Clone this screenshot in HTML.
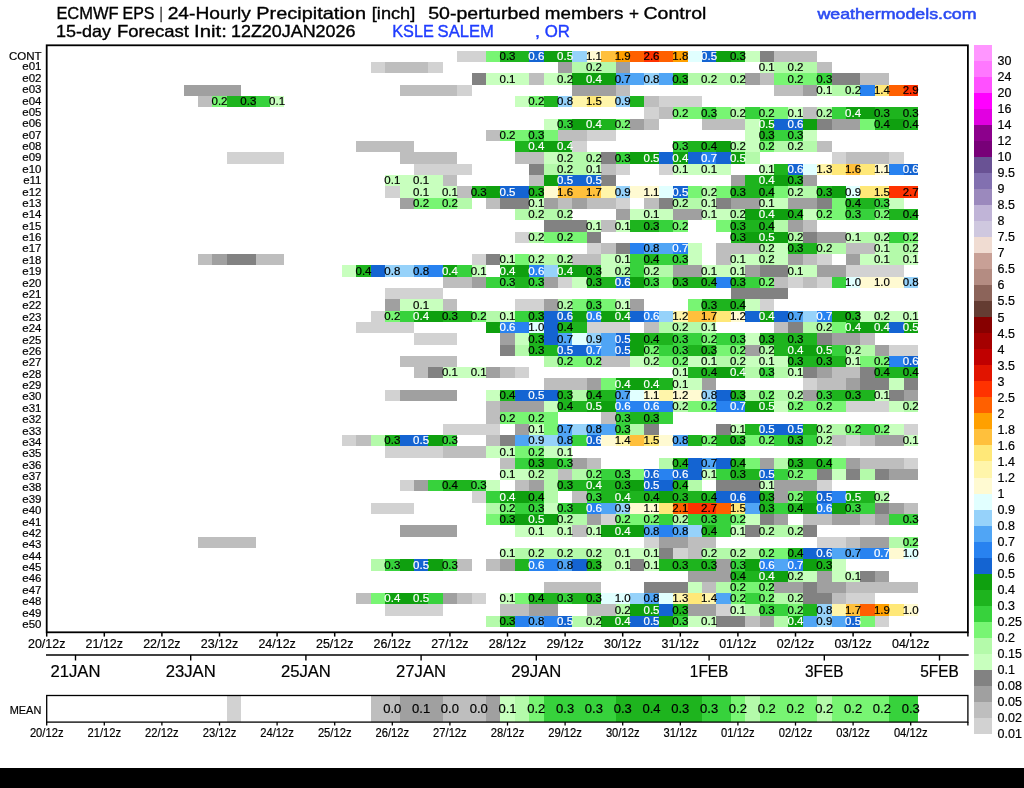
<!DOCTYPE html><html><head><meta charset="utf-8"><title>ECMWF EPS 24-Hourly Precipitation</title>
<style>html,body{margin:0;padding:0;background:#fff;}body{position:relative;width:1024px;height:788px;overflow:hidden;}svg{display:block;position:absolute;left:0;top:0;font-family:"Liberation Sans",sans-serif;}svg.top{will-change:transform;}</style></head><body>
<svg width="1024" height="788" viewBox="0 0 1024 788">
<rect x="0" y="0" width="1024" height="788" fill="#fff"/>
<g shape-rendering="crispEdges">
<rect x="457.1" y="50.7" width="28.8" height="11.3" fill="#d2d2d2"/>
<rect x="485.9" y="50.7" width="14.4" height="11.3" fill="#78f573"/>
<rect x="500.3" y="50.7" width="28.8" height="11.3" fill="#1eb41e"/>
<rect x="529.1" y="50.7" width="14.4" height="11.3" fill="#1464d2"/>
<rect x="543.5" y="50.7" width="28.8" height="11.3" fill="#0fa00f"/>
<rect x="572.3" y="50.7" width="14.4" height="11.3" fill="#96d2fa"/>
<rect x="586.7" y="50.7" width="14.4" height="11.3" fill="#fffad2"/>
<rect x="601.1" y="50.7" width="14.4" height="11.3" fill="#ffc03c"/>
<rect x="615.5" y="50.7" width="14.4" height="11.3" fill="#ffa000"/>
<rect x="629.9" y="50.7" width="14.4" height="11.3" fill="#ff6000"/>
<rect x="644.3" y="50.7" width="14.4" height="11.3" fill="#ff3200"/>
<rect x="658.7" y="50.7" width="14.4" height="11.3" fill="#ff6000"/>
<rect x="673.1" y="50.7" width="14.4" height="11.3" fill="#ffa000"/>
<rect x="687.5" y="50.7" width="14.4" height="11.3" fill="#e1ffff"/>
<rect x="701.9" y="50.7" width="14.4" height="11.3" fill="#1464d2"/>
<rect x="716.3" y="50.7" width="14.4" height="11.3" fill="#0fa00f"/>
<rect x="730.7" y="50.7" width="14.4" height="11.3" fill="#1eb41e"/>
<rect x="745.1" y="50.7" width="14.4" height="11.3" fill="#c8ffbe"/>
<rect x="759.5" y="50.7" width="14.4" height="11.3" fill="#828282"/>
<rect x="773.9" y="50.7" width="43.2" height="11.3" fill="#bebebe"/>
<rect x="370.7" y="62" width="14.4" height="11.3" fill="#d2d2d2"/>
<rect x="385.1" y="62" width="43.2" height="11.3" fill="#bebebe"/>
<rect x="428.3" y="62" width="14.4" height="11.3" fill="#d2d2d2"/>
<rect x="557.9" y="62" width="14.4" height="11.3" fill="#a0a0a0"/>
<rect x="572.3" y="62" width="43.2" height="11.3" fill="#b4faaa"/>
<rect x="615.5" y="62" width="14.4" height="11.3" fill="#a0a0a0"/>
<rect x="759.5" y="62" width="14.4" height="11.3" fill="#c8ffbe"/>
<rect x="773.9" y="62" width="43.2" height="11.3" fill="#b4faaa"/>
<rect x="817.1" y="62" width="14.4" height="11.3" fill="#bebebe"/>
<rect x="471.5" y="73.3" width="14.4" height="11.3" fill="#828282"/>
<rect x="485.9" y="73.3" width="43.2" height="11.3" fill="#c8ffbe"/>
<rect x="529.1" y="73.3" width="14.4" height="11.3" fill="#bebebe"/>
<rect x="543.5" y="73.3" width="14.4" height="11.3" fill="#c8ffbe"/>
<rect x="557.9" y="73.3" width="14.4" height="11.3" fill="#b4faaa"/>
<rect x="572.3" y="73.3" width="43.2" height="11.3" fill="#0fa00f"/>
<rect x="615.5" y="73.3" width="28.8" height="11.3" fill="#50a5f5"/>
<rect x="644.3" y="73.3" width="14.4" height="11.3" fill="#96d2fa"/>
<rect x="658.7" y="73.3" width="14.4" height="11.3" fill="#50a5f5"/>
<rect x="673.1" y="73.3" width="14.4" height="11.3" fill="#1eb41e"/>
<rect x="687.5" y="73.3" width="57.6" height="11.3" fill="#b4faaa"/>
<rect x="745.1" y="73.3" width="14.4" height="11.3" fill="#a0a0a0"/>
<rect x="759.5" y="73.3" width="14.4" height="11.3" fill="#bebebe"/>
<rect x="773.9" y="73.3" width="43.2" height="11.3" fill="#78f573"/>
<rect x="817.1" y="73.3" width="14.4" height="11.3" fill="#37d23c"/>
<rect x="831.5" y="73.3" width="28.8" height="11.3" fill="#828282"/>
<rect x="860.3" y="73.3" width="28.8" height="11.3" fill="#bebebe"/>
<rect x="183.5" y="84.6" width="57.6" height="11.3" fill="#a0a0a0"/>
<rect x="399.5" y="84.6" width="57.6" height="11.3" fill="#bebebe"/>
<rect x="457.1" y="84.6" width="14.4" height="11.3" fill="#d2d2d2"/>
<rect x="572.3" y="84.6" width="43.2" height="11.3" fill="#a0a0a0"/>
<rect x="615.5" y="84.6" width="14.4" height="11.3" fill="#bebebe"/>
<rect x="773.9" y="84.6" width="28.8" height="11.3" fill="#bebebe"/>
<rect x="802.7" y="84.6" width="14.4" height="11.3" fill="#a0a0a0"/>
<rect x="817.1" y="84.6" width="14.4" height="11.3" fill="#c8ffbe"/>
<rect x="831.5" y="84.6" width="28.8" height="11.3" fill="#b4faaa"/>
<rect x="860.3" y="84.6" width="14.4" height="11.3" fill="#2882f0"/>
<rect x="874.7" y="84.6" width="14.4" height="11.3" fill="#ffe878"/>
<rect x="889.1" y="84.6" width="14.4" height="11.3" fill="#ff6000"/>
<rect x="903.5" y="84.6" width="14.4" height="11.3" fill="#ff3200"/>
<rect x="197.9" y="95.9" width="14.4" height="11.3" fill="#bebebe"/>
<rect x="212.3" y="95.9" width="14.4" height="11.3" fill="#78f573"/>
<rect x="226.7" y="95.9" width="28.8" height="11.3" fill="#1eb41e"/>
<rect x="255.5" y="95.9" width="14.4" height="11.3" fill="#37d23c"/>
<rect x="269.9" y="95.9" width="14.4" height="11.3" fill="#c8ffbe"/>
<rect x="514.7" y="95.9" width="14.4" height="11.3" fill="#c8ffbe"/>
<rect x="529.1" y="95.9" width="14.4" height="11.3" fill="#78f573"/>
<rect x="543.5" y="95.9" width="14.4" height="11.3" fill="#1eb41e"/>
<rect x="557.9" y="95.9" width="14.4" height="11.3" fill="#96d2fa"/>
<rect x="572.3" y="95.9" width="14.4" height="11.3" fill="#fff5aa"/>
<rect x="586.7" y="95.9" width="14.4" height="11.3" fill="#ffe878"/>
<rect x="601.1" y="95.9" width="14.4" height="11.3" fill="#fff5aa"/>
<rect x="615.5" y="95.9" width="14.4" height="11.3" fill="#96d2fa"/>
<rect x="629.9" y="95.9" width="14.4" height="11.3" fill="#1eb41e"/>
<rect x="644.3" y="95.9" width="14.4" height="11.3" fill="#bebebe"/>
<rect x="658.7" y="95.9" width="43.2" height="11.3" fill="#d2d2d2"/>
<rect x="644.3" y="107.2" width="14.4" height="11.3" fill="#d2d2d2"/>
<rect x="658.7" y="107.2" width="14.4" height="11.3" fill="#bebebe"/>
<rect x="673.1" y="107.2" width="28.8" height="11.3" fill="#78f573"/>
<rect x="701.9" y="107.2" width="14.4" height="11.3" fill="#37d23c"/>
<rect x="716.3" y="107.2" width="14.4" height="11.3" fill="#78f573"/>
<rect x="730.7" y="107.2" width="14.4" height="11.3" fill="#b4faaa"/>
<rect x="745.1" y="107.2" width="14.4" height="11.3" fill="#37d23c"/>
<rect x="759.5" y="107.2" width="28.8" height="11.3" fill="#78f573"/>
<rect x="788.3" y="107.2" width="14.4" height="11.3" fill="#c8ffbe"/>
<rect x="802.7" y="107.2" width="14.4" height="11.3" fill="#bebebe"/>
<rect x="817.1" y="107.2" width="14.4" height="11.3" fill="#b4faaa"/>
<rect x="831.5" y="107.2" width="14.4" height="11.3" fill="#37d23c"/>
<rect x="845.9" y="107.2" width="28.8" height="11.3" fill="#0fa00f"/>
<rect x="874.7" y="107.2" width="43.2" height="11.3" fill="#1eb41e"/>
<rect x="543.5" y="118.5" width="14.4" height="11.3" fill="#c8ffbe"/>
<rect x="557.9" y="118.5" width="14.4" height="11.3" fill="#37d23c"/>
<rect x="572.3" y="118.5" width="28.8" height="11.3" fill="#0fa00f"/>
<rect x="601.1" y="118.5" width="14.4" height="11.3" fill="#1eb41e"/>
<rect x="615.5" y="118.5" width="14.4" height="11.3" fill="#78f573"/>
<rect x="629.9" y="118.5" width="14.4" height="11.3" fill="#a0a0a0"/>
<rect x="644.3" y="118.5" width="14.4" height="11.3" fill="#bebebe"/>
<rect x="701.9" y="118.5" width="43.2" height="11.3" fill="#bebebe"/>
<rect x="745.1" y="118.5" width="14.4" height="11.3" fill="#c8ffbe"/>
<rect x="759.5" y="118.5" width="14.4" height="11.3" fill="#0fa00f"/>
<rect x="773.9" y="118.5" width="28.8" height="11.3" fill="#1464d2"/>
<rect x="802.7" y="118.5" width="14.4" height="11.3" fill="#0fa00f"/>
<rect x="817.1" y="118.5" width="14.4" height="11.3" fill="#828282"/>
<rect x="831.5" y="118.5" width="28.8" height="11.3" fill="#a0a0a0"/>
<rect x="860.3" y="118.5" width="14.4" height="11.3" fill="#78f573"/>
<rect x="874.7" y="118.5" width="14.4" height="11.3" fill="#1eb41e"/>
<rect x="889.1" y="118.5" width="14.4" height="11.3" fill="#0fa00f"/>
<rect x="903.5" y="118.5" width="14.4" height="11.3" fill="#1eb41e"/>
<rect x="485.9" y="129.8" width="14.4" height="11.3" fill="#bebebe"/>
<rect x="500.3" y="129.8" width="28.8" height="11.3" fill="#78f573"/>
<rect x="529.1" y="129.8" width="14.4" height="11.3" fill="#37d23c"/>
<rect x="543.5" y="129.8" width="14.4" height="11.3" fill="#78f573"/>
<rect x="557.9" y="129.8" width="28.8" height="11.3" fill="#bebebe"/>
<rect x="586.7" y="129.8" width="28.8" height="11.3" fill="#d2d2d2"/>
<rect x="745.1" y="129.8" width="14.4" height="11.3" fill="#c8ffbe"/>
<rect x="759.5" y="129.8" width="14.4" height="11.3" fill="#1eb41e"/>
<rect x="773.9" y="129.8" width="28.8" height="11.3" fill="#37d23c"/>
<rect x="802.7" y="129.8" width="14.4" height="11.3" fill="#c8ffbe"/>
<rect x="356.3" y="141.1" width="57.6" height="11.3" fill="#bebebe"/>
<rect x="514.7" y="141.1" width="14.4" height="11.3" fill="#1eb41e"/>
<rect x="529.1" y="141.1" width="43.2" height="11.3" fill="#0fa00f"/>
<rect x="572.3" y="141.1" width="14.4" height="11.3" fill="#d2d2d2"/>
<rect x="673.1" y="141.1" width="14.4" height="11.3" fill="#37d23c"/>
<rect x="687.5" y="141.1" width="28.8" height="11.3" fill="#1eb41e"/>
<rect x="716.3" y="141.1" width="14.4" height="11.3" fill="#0fa00f"/>
<rect x="730.7" y="141.1" width="14.4" height="11.3" fill="#b4faaa"/>
<rect x="745.1" y="141.1" width="14.4" height="11.3" fill="#c8ffbe"/>
<rect x="759.5" y="141.1" width="14.4" height="11.3" fill="#78f573"/>
<rect x="773.9" y="141.1" width="43.2" height="11.3" fill="#b4faaa"/>
<rect x="817.1" y="141.1" width="14.4" height="11.3" fill="#bebebe"/>
<rect x="226.7" y="152.4" width="57.6" height="11.3" fill="#d2d2d2"/>
<rect x="399.5" y="152.4" width="57.6" height="11.3" fill="#bebebe"/>
<rect x="514.7" y="152.4" width="28.8" height="11.3" fill="#bebebe"/>
<rect x="543.5" y="152.4" width="14.4" height="11.3" fill="#c8ffbe"/>
<rect x="557.9" y="152.4" width="43.2" height="11.3" fill="#b4faaa"/>
<rect x="601.1" y="152.4" width="14.4" height="11.3" fill="#828282"/>
<rect x="615.5" y="152.4" width="14.4" height="11.3" fill="#37d23c"/>
<rect x="629.9" y="152.4" width="28.8" height="11.3" fill="#0fa00f"/>
<rect x="658.7" y="152.4" width="14.4" height="11.3" fill="#1464d2"/>
<rect x="673.1" y="152.4" width="14.4" height="11.3" fill="#0fa00f"/>
<rect x="687.5" y="152.4" width="14.4" height="11.3" fill="#1464d2"/>
<rect x="701.9" y="152.4" width="14.4" height="11.3" fill="#2882f0"/>
<rect x="716.3" y="152.4" width="14.4" height="11.3" fill="#1464d2"/>
<rect x="730.7" y="152.4" width="14.4" height="11.3" fill="#0fa00f"/>
<rect x="745.1" y="152.4" width="14.4" height="11.3" fill="#b4faaa"/>
<rect x="831.5" y="152.4" width="14.4" height="11.3" fill="#d2d2d2"/>
<rect x="845.9" y="152.4" width="43.2" height="11.3" fill="#bebebe"/>
<rect x="889.1" y="152.4" width="14.4" height="11.3" fill="#d2d2d2"/>
<rect x="413.9" y="163.7" width="57.6" height="11.3" fill="#d2d2d2"/>
<rect x="529.1" y="163.7" width="14.4" height="11.3" fill="#828282"/>
<rect x="543.5" y="163.7" width="43.2" height="11.3" fill="#b4faaa"/>
<rect x="586.7" y="163.7" width="14.4" height="11.3" fill="#c8ffbe"/>
<rect x="601.1" y="163.7" width="14.4" height="11.3" fill="#bebebe"/>
<rect x="615.5" y="163.7" width="14.4" height="11.3" fill="#d2d2d2"/>
<rect x="658.7" y="163.7" width="14.4" height="11.3" fill="#d2d2d2"/>
<rect x="673.1" y="163.7" width="57.6" height="11.3" fill="#c8ffbe"/>
<rect x="759.5" y="163.7" width="14.4" height="11.3" fill="#c8ffbe"/>
<rect x="773.9" y="163.7" width="14.4" height="11.3" fill="#1eb41e"/>
<rect x="788.3" y="163.7" width="14.4" height="11.3" fill="#1464d2"/>
<rect x="802.7" y="163.7" width="14.4" height="11.3" fill="#e1ffff"/>
<rect x="817.1" y="163.7" width="14.4" height="11.3" fill="#fff5aa"/>
<rect x="831.5" y="163.7" width="14.4" height="11.3" fill="#ffe878"/>
<rect x="845.9" y="163.7" width="14.4" height="11.3" fill="#ffc03c"/>
<rect x="860.3" y="163.7" width="14.4" height="11.3" fill="#ffe878"/>
<rect x="874.7" y="163.7" width="14.4" height="11.3" fill="#fffad2"/>
<rect x="889.1" y="163.7" width="14.4" height="11.3" fill="#2882f0"/>
<rect x="903.5" y="163.7" width="14.4" height="11.3" fill="#1464d2"/>
<rect x="385.1" y="175" width="57.6" height="11.3" fill="#c8ffbe"/>
<rect x="442.7" y="175" width="14.4" height="11.3" fill="#bebebe"/>
<rect x="529.1" y="175" width="14.4" height="11.3" fill="#bebebe"/>
<rect x="543.5" y="175" width="14.4" height="11.3" fill="#0fa00f"/>
<rect x="557.9" y="175" width="43.2" height="11.3" fill="#1464d2"/>
<rect x="601.1" y="175" width="14.4" height="11.3" fill="#828282"/>
<rect x="730.7" y="175" width="14.4" height="11.3" fill="#a0a0a0"/>
<rect x="745.1" y="175" width="14.4" height="11.3" fill="#1eb41e"/>
<rect x="759.5" y="175" width="28.8" height="11.3" fill="#0fa00f"/>
<rect x="788.3" y="175" width="14.4" height="11.3" fill="#1eb41e"/>
<rect x="802.7" y="175" width="14.4" height="11.3" fill="#a0a0a0"/>
<rect x="385.1" y="186.3" width="14.4" height="11.3" fill="#d2d2d2"/>
<rect x="399.5" y="186.3" width="57.6" height="11.3" fill="#c8ffbe"/>
<rect x="457.1" y="186.3" width="14.4" height="11.3" fill="#bebebe"/>
<rect x="471.5" y="186.3" width="14.4" height="11.3" fill="#1eb41e"/>
<rect x="485.9" y="186.3" width="14.4" height="11.3" fill="#0fa00f"/>
<rect x="500.3" y="186.3" width="28.8" height="11.3" fill="#1464d2"/>
<rect x="529.1" y="186.3" width="14.4" height="11.3" fill="#1eb41e"/>
<rect x="543.5" y="186.3" width="14.4" height="11.3" fill="#fffad2"/>
<rect x="557.9" y="186.3" width="43.2" height="11.3" fill="#ffc03c"/>
<rect x="601.1" y="186.3" width="14.4" height="11.3" fill="#fff5aa"/>
<rect x="615.5" y="186.3" width="14.4" height="11.3" fill="#96d2fa"/>
<rect x="629.9" y="186.3" width="28.8" height="11.3" fill="#fffad2"/>
<rect x="658.7" y="186.3" width="14.4" height="11.3" fill="#e1ffff"/>
<rect x="673.1" y="186.3" width="14.4" height="11.3" fill="#1464d2"/>
<rect x="687.5" y="186.3" width="14.4" height="11.3" fill="#78f573"/>
<rect x="701.9" y="186.3" width="14.4" height="11.3" fill="#b4faaa"/>
<rect x="716.3" y="186.3" width="14.4" height="11.3" fill="#78f573"/>
<rect x="730.7" y="186.3" width="43.2" height="11.3" fill="#1eb41e"/>
<rect x="773.9" y="186.3" width="14.4" height="11.3" fill="#78f573"/>
<rect x="788.3" y="186.3" width="28.8" height="11.3" fill="#b4faaa"/>
<rect x="817.1" y="186.3" width="14.4" height="11.3" fill="#1eb41e"/>
<rect x="831.5" y="186.3" width="14.4" height="11.3" fill="#0fa00f"/>
<rect x="845.9" y="186.3" width="14.4" height="11.3" fill="#e1ffff"/>
<rect x="860.3" y="186.3" width="28.8" height="11.3" fill="#ffe878"/>
<rect x="889.1" y="186.3" width="28.8" height="11.3" fill="#ff3200"/>
<rect x="399.5" y="197.6" width="14.4" height="11.3" fill="#a0a0a0"/>
<rect x="413.9" y="197.6" width="43.2" height="11.3" fill="#78f573"/>
<rect x="457.1" y="197.6" width="14.4" height="11.3" fill="#b4faaa"/>
<rect x="485.9" y="197.6" width="14.4" height="11.3" fill="#bebebe"/>
<rect x="500.3" y="197.6" width="28.8" height="11.3" fill="#828282"/>
<rect x="529.1" y="197.6" width="14.4" height="11.3" fill="#c8ffbe"/>
<rect x="543.5" y="197.6" width="14.4" height="11.3" fill="#a0a0a0"/>
<rect x="557.9" y="197.6" width="14.4" height="11.3" fill="#bebebe"/>
<rect x="572.3" y="197.6" width="14.4" height="11.3" fill="#a0a0a0"/>
<rect x="586.7" y="197.6" width="28.8" height="11.3" fill="#bebebe"/>
<rect x="615.5" y="197.6" width="14.4" height="11.3" fill="#d2d2d2"/>
<rect x="644.3" y="197.6" width="14.4" height="11.3" fill="#bebebe"/>
<rect x="658.7" y="197.6" width="14.4" height="11.3" fill="#828282"/>
<rect x="673.1" y="197.6" width="28.8" height="11.3" fill="#b4faaa"/>
<rect x="701.9" y="197.6" width="14.4" height="11.3" fill="#c8ffbe"/>
<rect x="716.3" y="197.6" width="14.4" height="11.3" fill="#828282"/>
<rect x="730.7" y="197.6" width="28.8" height="11.3" fill="#a0a0a0"/>
<rect x="759.5" y="197.6" width="28.8" height="11.3" fill="#c8ffbe"/>
<rect x="788.3" y="197.6" width="28.8" height="11.3" fill="#a0a0a0"/>
<rect x="817.1" y="197.6" width="14.4" height="11.3" fill="#828282"/>
<rect x="831.5" y="197.6" width="14.4" height="11.3" fill="#78f573"/>
<rect x="845.9" y="197.6" width="28.8" height="11.3" fill="#1eb41e"/>
<rect x="874.7" y="197.6" width="14.4" height="11.3" fill="#37d23c"/>
<rect x="889.1" y="197.6" width="14.4" height="11.3" fill="#c8ffbe"/>
<rect x="514.7" y="208.9" width="57.6" height="11.3" fill="#b4faaa"/>
<rect x="615.5" y="208.9" width="14.4" height="11.3" fill="#a0a0a0"/>
<rect x="629.9" y="208.9" width="43.2" height="11.3" fill="#c8ffbe"/>
<rect x="673.1" y="208.9" width="28.8" height="11.3" fill="#a0a0a0"/>
<rect x="701.9" y="208.9" width="28.8" height="11.3" fill="#c8ffbe"/>
<rect x="730.7" y="208.9" width="14.4" height="11.3" fill="#b4faaa"/>
<rect x="745.1" y="208.9" width="43.2" height="11.3" fill="#0fa00f"/>
<rect x="788.3" y="208.9" width="14.4" height="11.3" fill="#1eb41e"/>
<rect x="802.7" y="208.9" width="14.4" height="11.3" fill="#c8ffbe"/>
<rect x="817.1" y="208.9" width="28.8" height="11.3" fill="#78f573"/>
<rect x="845.9" y="208.9" width="28.8" height="11.3" fill="#37d23c"/>
<rect x="874.7" y="208.9" width="14.4" height="11.3" fill="#78f573"/>
<rect x="889.1" y="208.9" width="28.8" height="11.3" fill="#1eb41e"/>
<rect x="543.5" y="220.2" width="43.2" height="11.3" fill="#828282"/>
<rect x="586.7" y="220.2" width="14.4" height="11.3" fill="#c8ffbe"/>
<rect x="601.1" y="220.2" width="14.4" height="11.3" fill="#bebebe"/>
<rect x="615.5" y="220.2" width="14.4" height="11.3" fill="#c8ffbe"/>
<rect x="629.9" y="220.2" width="28.8" height="11.3" fill="#1eb41e"/>
<rect x="658.7" y="220.2" width="14.4" height="11.3" fill="#37d23c"/>
<rect x="673.1" y="220.2" width="14.4" height="11.3" fill="#78f573"/>
<rect x="716.3" y="220.2" width="14.4" height="11.3" fill="#78f573"/>
<rect x="730.7" y="220.2" width="43.2" height="11.3" fill="#1eb41e"/>
<rect x="773.9" y="220.2" width="14.4" height="11.3" fill="#b4faaa"/>
<rect x="788.3" y="220.2" width="14.4" height="11.3" fill="#a0a0a0"/>
<rect x="802.7" y="220.2" width="14.4" height="11.3" fill="#bebebe"/>
<rect x="514.7" y="231.5" width="14.4" height="11.3" fill="#d2d2d2"/>
<rect x="529.1" y="231.5" width="14.4" height="11.3" fill="#b4faaa"/>
<rect x="543.5" y="231.5" width="43.2" height="11.3" fill="#78f573"/>
<rect x="586.7" y="231.5" width="14.4" height="11.3" fill="#828282"/>
<rect x="730.7" y="231.5" width="14.4" height="11.3" fill="#1eb41e"/>
<rect x="745.1" y="231.5" width="43.2" height="11.3" fill="#0fa00f"/>
<rect x="788.3" y="231.5" width="14.4" height="11.3" fill="#b4faaa"/>
<rect x="802.7" y="231.5" width="14.4" height="11.3" fill="#828282"/>
<rect x="817.1" y="231.5" width="28.8" height="11.3" fill="#a0a0a0"/>
<rect x="845.9" y="231.5" width="14.4" height="11.3" fill="#c8ffbe"/>
<rect x="860.3" y="231.5" width="28.8" height="11.3" fill="#b4faaa"/>
<rect x="889.1" y="231.5" width="14.4" height="11.3" fill="#37d23c"/>
<rect x="903.5" y="231.5" width="14.4" height="11.3" fill="#78f573"/>
<rect x="586.7" y="242.8" width="14.4" height="11.3" fill="#d2d2d2"/>
<rect x="601.1" y="242.8" width="14.4" height="11.3" fill="#bebebe"/>
<rect x="615.5" y="242.8" width="14.4" height="11.3" fill="#828282"/>
<rect x="629.9" y="242.8" width="14.4" height="11.3" fill="#2882f0"/>
<rect x="644.3" y="242.8" width="28.8" height="11.3" fill="#50a5f5"/>
<rect x="673.1" y="242.8" width="14.4" height="11.3" fill="#2882f0"/>
<rect x="687.5" y="242.8" width="14.4" height="11.3" fill="#c8ffbe"/>
<rect x="716.3" y="242.8" width="43.2" height="11.3" fill="#bebebe"/>
<rect x="759.5" y="242.8" width="14.4" height="11.3" fill="#b4faaa"/>
<rect x="773.9" y="242.8" width="14.4" height="11.3" fill="#c8ffbe"/>
<rect x="788.3" y="242.8" width="28.8" height="11.3" fill="#1eb41e"/>
<rect x="817.1" y="242.8" width="28.8" height="11.3" fill="#b4faaa"/>
<rect x="845.9" y="242.8" width="28.8" height="11.3" fill="#bebebe"/>
<rect x="874.7" y="242.8" width="14.4" height="11.3" fill="#c8ffbe"/>
<rect x="889.1" y="242.8" width="28.8" height="11.3" fill="#b4faaa"/>
<rect x="197.9" y="254.1" width="14.4" height="11.3" fill="#bebebe"/>
<rect x="212.3" y="254.1" width="14.4" height="11.3" fill="#a0a0a0"/>
<rect x="226.7" y="254.1" width="28.8" height="11.3" fill="#828282"/>
<rect x="255.5" y="254.1" width="28.8" height="11.3" fill="#bebebe"/>
<rect x="471.5" y="254.1" width="14.4" height="11.3" fill="#d2d2d2"/>
<rect x="485.9" y="254.1" width="14.4" height="11.3" fill="#828282"/>
<rect x="500.3" y="254.1" width="14.4" height="11.3" fill="#c8ffbe"/>
<rect x="514.7" y="254.1" width="14.4" height="11.3" fill="#78f573"/>
<rect x="529.1" y="254.1" width="43.2" height="11.3" fill="#b4faaa"/>
<rect x="572.3" y="254.1" width="28.8" height="11.3" fill="#bebebe"/>
<rect x="601.1" y="254.1" width="28.8" height="11.3" fill="#c8ffbe"/>
<rect x="629.9" y="254.1" width="14.4" height="11.3" fill="#37d23c"/>
<rect x="644.3" y="254.1" width="14.4" height="11.3" fill="#1eb41e"/>
<rect x="658.7" y="254.1" width="28.8" height="11.3" fill="#37d23c"/>
<rect x="687.5" y="254.1" width="14.4" height="11.3" fill="#c8ffbe"/>
<rect x="716.3" y="254.1" width="14.4" height="11.3" fill="#bebebe"/>
<rect x="730.7" y="254.1" width="28.8" height="11.3" fill="#c8ffbe"/>
<rect x="759.5" y="254.1" width="14.4" height="11.3" fill="#b4faaa"/>
<rect x="773.9" y="254.1" width="14.4" height="11.3" fill="#c8ffbe"/>
<rect x="788.3" y="254.1" width="14.4" height="11.3" fill="#a0a0a0"/>
<rect x="802.7" y="254.1" width="14.4" height="11.3" fill="#bebebe"/>
<rect x="817.1" y="254.1" width="14.4" height="11.3" fill="#d2d2d2"/>
<rect x="845.9" y="254.1" width="14.4" height="11.3" fill="#a0a0a0"/>
<rect x="860.3" y="254.1" width="28.8" height="11.3" fill="#c8ffbe"/>
<rect x="889.1" y="254.1" width="14.4" height="11.3" fill="#b4faaa"/>
<rect x="903.5" y="254.1" width="14.4" height="11.3" fill="#c8ffbe"/>
<rect x="341.9" y="265.4" width="14.4" height="11.3" fill="#c8ffbe"/>
<rect x="356.3" y="265.4" width="14.4" height="11.3" fill="#1eb41e"/>
<rect x="370.7" y="265.4" width="14.4" height="11.3" fill="#1464d2"/>
<rect x="385.1" y="265.4" width="28.8" height="11.3" fill="#96d2fa"/>
<rect x="413.9" y="265.4" width="14.4" height="11.3" fill="#50a5f5"/>
<rect x="428.3" y="265.4" width="14.4" height="11.3" fill="#2882f0"/>
<rect x="442.7" y="265.4" width="14.4" height="11.3" fill="#0fa00f"/>
<rect x="457.1" y="265.4" width="14.4" height="11.3" fill="#37d23c"/>
<rect x="471.5" y="265.4" width="14.4" height="11.3" fill="#c8ffbe"/>
<rect x="500.3" y="265.4" width="28.8" height="11.3" fill="#0fa00f"/>
<rect x="529.1" y="265.4" width="14.4" height="11.3" fill="#2882f0"/>
<rect x="543.5" y="265.4" width="14.4" height="11.3" fill="#96d2fa"/>
<rect x="557.9" y="265.4" width="28.8" height="11.3" fill="#0fa00f"/>
<rect x="586.7" y="265.4" width="14.4" height="11.3" fill="#1eb41e"/>
<rect x="601.1" y="265.4" width="14.4" height="11.3" fill="#c8ffbe"/>
<rect x="615.5" y="265.4" width="14.4" height="11.3" fill="#b4faaa"/>
<rect x="629.9" y="265.4" width="14.4" height="11.3" fill="#37d23c"/>
<rect x="644.3" y="265.4" width="28.8" height="11.3" fill="#b4faaa"/>
<rect x="673.1" y="265.4" width="28.8" height="11.3" fill="#a0a0a0"/>
<rect x="701.9" y="265.4" width="43.2" height="11.3" fill="#c8ffbe"/>
<rect x="745.1" y="265.4" width="14.4" height="11.3" fill="#a0a0a0"/>
<rect x="759.5" y="265.4" width="28.8" height="11.3" fill="#828282"/>
<rect x="788.3" y="265.4" width="28.8" height="11.3" fill="#c8ffbe"/>
<rect x="817.1" y="265.4" width="28.8" height="11.3" fill="#a0a0a0"/>
<rect x="845.9" y="265.4" width="57.6" height="11.3" fill="#d2d2d2"/>
<rect x="442.7" y="276.7" width="28.8" height="11.3" fill="#bebebe"/>
<rect x="471.5" y="276.7" width="14.4" height="11.3" fill="#a0a0a0"/>
<rect x="485.9" y="276.7" width="28.8" height="11.3" fill="#37d23c"/>
<rect x="514.7" y="276.7" width="14.4" height="11.3" fill="#1eb41e"/>
<rect x="529.1" y="276.7" width="14.4" height="11.3" fill="#37d23c"/>
<rect x="543.5" y="276.7" width="14.4" height="11.3" fill="#a0a0a0"/>
<rect x="557.9" y="276.7" width="14.4" height="11.3" fill="#d2d2d2"/>
<rect x="572.3" y="276.7" width="14.4" height="11.3" fill="#c8ffbe"/>
<rect x="586.7" y="276.7" width="28.8" height="11.3" fill="#1eb41e"/>
<rect x="615.5" y="276.7" width="14.4" height="11.3" fill="#1464d2"/>
<rect x="629.9" y="276.7" width="14.4" height="11.3" fill="#0fa00f"/>
<rect x="644.3" y="276.7" width="14.4" height="11.3" fill="#37d23c"/>
<rect x="658.7" y="276.7" width="14.4" height="11.3" fill="#78f573"/>
<rect x="673.1" y="276.7" width="43.2" height="11.3" fill="#1eb41e"/>
<rect x="716.3" y="276.7" width="14.4" height="11.3" fill="#2882f0"/>
<rect x="730.7" y="276.7" width="14.4" height="11.3" fill="#1eb41e"/>
<rect x="745.1" y="276.7" width="14.4" height="11.3" fill="#37d23c"/>
<rect x="759.5" y="276.7" width="14.4" height="11.3" fill="#78f573"/>
<rect x="773.9" y="276.7" width="14.4" height="11.3" fill="#bebebe"/>
<rect x="788.3" y="276.7" width="14.4" height="11.3" fill="#d2d2d2"/>
<rect x="802.7" y="276.7" width="14.4" height="11.3" fill="#bebebe"/>
<rect x="817.1" y="276.7" width="14.4" height="11.3" fill="#d2d2d2"/>
<rect x="831.5" y="276.7" width="14.4" height="11.3" fill="#37d23c"/>
<rect x="845.9" y="276.7" width="14.4" height="11.3" fill="#e1ffff"/>
<rect x="860.3" y="276.7" width="43.2" height="11.3" fill="#fffad2"/>
<rect x="903.5" y="276.7" width="14.4" height="11.3" fill="#96d2fa"/>
<rect x="385.1" y="288" width="57.6" height="11.3" fill="#d2d2d2"/>
<rect x="730.7" y="288" width="57.6" height="11.3" fill="#828282"/>
<rect x="385.1" y="299.3" width="14.4" height="11.3" fill="#a0a0a0"/>
<rect x="399.5" y="299.3" width="43.2" height="11.3" fill="#c8ffbe"/>
<rect x="442.7" y="299.3" width="14.4" height="11.3" fill="#bebebe"/>
<rect x="514.7" y="299.3" width="28.8" height="11.3" fill="#d2d2d2"/>
<rect x="543.5" y="299.3" width="14.4" height="11.3" fill="#a0a0a0"/>
<rect x="557.9" y="299.3" width="14.4" height="11.3" fill="#b4faaa"/>
<rect x="572.3" y="299.3" width="14.4" height="11.3" fill="#78f573"/>
<rect x="586.7" y="299.3" width="14.4" height="11.3" fill="#37d23c"/>
<rect x="601.1" y="299.3" width="14.4" height="11.3" fill="#78f573"/>
<rect x="615.5" y="299.3" width="14.4" height="11.3" fill="#c8ffbe"/>
<rect x="629.9" y="299.3" width="14.4" height="11.3" fill="#a0a0a0"/>
<rect x="687.5" y="299.3" width="14.4" height="11.3" fill="#78f573"/>
<rect x="701.9" y="299.3" width="43.2" height="11.3" fill="#1eb41e"/>
<rect x="745.1" y="299.3" width="14.4" height="11.3" fill="#c8ffbe"/>
<rect x="759.5" y="299.3" width="14.4" height="11.3" fill="#d2d2d2"/>
<rect x="370.7" y="310.6" width="14.4" height="11.3" fill="#d2d2d2"/>
<rect x="385.1" y="310.6" width="14.4" height="11.3" fill="#78f573"/>
<rect x="399.5" y="310.6" width="14.4" height="11.3" fill="#37d23c"/>
<rect x="413.9" y="310.6" width="28.8" height="11.3" fill="#0fa00f"/>
<rect x="442.7" y="310.6" width="28.8" height="11.3" fill="#1eb41e"/>
<rect x="471.5" y="310.6" width="14.4" height="11.3" fill="#78f573"/>
<rect x="485.9" y="310.6" width="14.4" height="11.3" fill="#b4faaa"/>
<rect x="500.3" y="310.6" width="14.4" height="11.3" fill="#c8ffbe"/>
<rect x="514.7" y="310.6" width="14.4" height="11.3" fill="#37d23c"/>
<rect x="529.1" y="310.6" width="14.4" height="11.3" fill="#1eb41e"/>
<rect x="543.5" y="310.6" width="28.8" height="11.3" fill="#1464d2"/>
<rect x="572.3" y="310.6" width="14.4" height="11.3" fill="#0fa00f"/>
<rect x="586.7" y="310.6" width="14.4" height="11.3" fill="#2882f0"/>
<rect x="601.1" y="310.6" width="28.8" height="11.3" fill="#0fa00f"/>
<rect x="629.9" y="310.6" width="14.4" height="11.3" fill="#1464d2"/>
<rect x="644.3" y="310.6" width="14.4" height="11.3" fill="#2882f0"/>
<rect x="658.7" y="310.6" width="14.4" height="11.3" fill="#96d2fa"/>
<rect x="673.1" y="310.6" width="14.4" height="11.3" fill="#fff5aa"/>
<rect x="687.5" y="310.6" width="28.8" height="11.3" fill="#ffc03c"/>
<rect x="716.3" y="310.6" width="14.4" height="11.3" fill="#ffe878"/>
<rect x="730.7" y="310.6" width="14.4" height="11.3" fill="#fffad2"/>
<rect x="745.1" y="310.6" width="14.4" height="11.3" fill="#1464d2"/>
<rect x="759.5" y="310.6" width="14.4" height="11.3" fill="#0fa00f"/>
<rect x="773.9" y="310.6" width="14.4" height="11.3" fill="#1464d2"/>
<rect x="788.3" y="310.6" width="14.4" height="11.3" fill="#50a5f5"/>
<rect x="802.7" y="310.6" width="14.4" height="11.3" fill="#96d2fa"/>
<rect x="817.1" y="310.6" width="14.4" height="11.3" fill="#2882f0"/>
<rect x="831.5" y="310.6" width="14.4" height="11.3" fill="#0fa00f"/>
<rect x="845.9" y="310.6" width="14.4" height="11.3" fill="#1eb41e"/>
<rect x="860.3" y="310.6" width="14.4" height="11.3" fill="#c8ffbe"/>
<rect x="874.7" y="310.6" width="14.4" height="11.3" fill="#b4faaa"/>
<rect x="889.1" y="310.6" width="28.8" height="11.3" fill="#c8ffbe"/>
<rect x="356.3" y="321.9" width="57.6" height="11.3" fill="#d2d2d2"/>
<rect x="485.9" y="321.9" width="14.4" height="11.3" fill="#0fa00f"/>
<rect x="500.3" y="321.9" width="28.8" height="11.3" fill="#2882f0"/>
<rect x="529.1" y="321.9" width="14.4" height="11.3" fill="#e1ffff"/>
<rect x="543.5" y="321.9" width="14.4" height="11.3" fill="#1464d2"/>
<rect x="557.9" y="321.9" width="28.8" height="11.3" fill="#1eb41e"/>
<rect x="586.7" y="321.9" width="43.2" height="11.3" fill="#d2d2d2"/>
<rect x="644.3" y="321.9" width="14.4" height="11.3" fill="#bebebe"/>
<rect x="658.7" y="321.9" width="43.2" height="11.3" fill="#b4faaa"/>
<rect x="701.9" y="321.9" width="14.4" height="11.3" fill="#c8ffbe"/>
<rect x="773.9" y="321.9" width="14.4" height="11.3" fill="#bebebe"/>
<rect x="788.3" y="321.9" width="14.4" height="11.3" fill="#828282"/>
<rect x="802.7" y="321.9" width="28.8" height="11.3" fill="#b4faaa"/>
<rect x="831.5" y="321.9" width="14.4" height="11.3" fill="#78f573"/>
<rect x="845.9" y="321.9" width="43.2" height="11.3" fill="#0fa00f"/>
<rect x="889.1" y="321.9" width="14.4" height="11.3" fill="#1464d2"/>
<rect x="903.5" y="321.9" width="14.4" height="11.3" fill="#0fa00f"/>
<rect x="413.9" y="333.2" width="43.2" height="11.3" fill="#d2d2d2"/>
<rect x="500.3" y="333.2" width="14.4" height="11.3" fill="#a0a0a0"/>
<rect x="514.7" y="333.2" width="14.4" height="11.3" fill="#c8ffbe"/>
<rect x="529.1" y="333.2" width="14.4" height="11.3" fill="#1eb41e"/>
<rect x="543.5" y="333.2" width="14.4" height="11.3" fill="#1464d2"/>
<rect x="557.9" y="333.2" width="14.4" height="11.3" fill="#50a5f5"/>
<rect x="572.3" y="333.2" width="14.4" height="11.3" fill="#e1ffff"/>
<rect x="586.7" y="333.2" width="14.4" height="11.3" fill="#96d2fa"/>
<rect x="601.1" y="333.2" width="14.4" height="11.3" fill="#50a5f5"/>
<rect x="615.5" y="333.2" width="14.4" height="11.3" fill="#1464d2"/>
<rect x="629.9" y="333.2" width="14.4" height="11.3" fill="#0fa00f"/>
<rect x="644.3" y="333.2" width="28.8" height="11.3" fill="#1eb41e"/>
<rect x="673.1" y="333.2" width="28.8" height="11.3" fill="#37d23c"/>
<rect x="701.9" y="333.2" width="14.4" height="11.3" fill="#78f573"/>
<rect x="716.3" y="333.2" width="28.8" height="11.3" fill="#37d23c"/>
<rect x="745.1" y="333.2" width="14.4" height="11.3" fill="#c8ffbe"/>
<rect x="759.5" y="333.2" width="57.6" height="11.3" fill="#1eb41e"/>
<rect x="817.1" y="333.2" width="14.4" height="11.3" fill="#828282"/>
<rect x="831.5" y="333.2" width="28.8" height="11.3" fill="#a0a0a0"/>
<rect x="860.3" y="333.2" width="14.4" height="11.3" fill="#bebebe"/>
<rect x="500.3" y="344.5" width="14.4" height="11.3" fill="#828282"/>
<rect x="514.7" y="344.5" width="14.4" height="11.3" fill="#b4faaa"/>
<rect x="529.1" y="344.5" width="28.8" height="11.3" fill="#1eb41e"/>
<rect x="557.9" y="344.5" width="28.8" height="11.3" fill="#1464d2"/>
<rect x="586.7" y="344.5" width="14.4" height="11.3" fill="#2882f0"/>
<rect x="601.1" y="344.5" width="14.4" height="11.3" fill="#50a5f5"/>
<rect x="615.5" y="344.5" width="14.4" height="11.3" fill="#1464d2"/>
<rect x="629.9" y="344.5" width="14.4" height="11.3" fill="#0fa00f"/>
<rect x="644.3" y="344.5" width="14.4" height="11.3" fill="#78f573"/>
<rect x="658.7" y="344.5" width="28.8" height="11.3" fill="#37d23c"/>
<rect x="687.5" y="344.5" width="28.8" height="11.3" fill="#1eb41e"/>
<rect x="716.3" y="344.5" width="28.8" height="11.3" fill="#78f573"/>
<rect x="745.1" y="344.5" width="14.4" height="11.3" fill="#a0a0a0"/>
<rect x="759.5" y="344.5" width="14.4" height="11.3" fill="#b4faaa"/>
<rect x="773.9" y="344.5" width="14.4" height="11.3" fill="#1eb41e"/>
<rect x="788.3" y="344.5" width="43.2" height="11.3" fill="#0fa00f"/>
<rect x="831.5" y="344.5" width="14.4" height="11.3" fill="#37d23c"/>
<rect x="845.9" y="344.5" width="28.8" height="11.3" fill="#b4faaa"/>
<rect x="874.7" y="344.5" width="14.4" height="11.3" fill="#a0a0a0"/>
<rect x="889.1" y="344.5" width="28.8" height="11.3" fill="#d2d2d2"/>
<rect x="399.5" y="355.8" width="57.6" height="11.3" fill="#bebebe"/>
<rect x="543.5" y="355.8" width="14.4" height="11.3" fill="#b4faaa"/>
<rect x="557.9" y="355.8" width="43.2" height="11.3" fill="#78f573"/>
<rect x="601.1" y="355.8" width="28.8" height="11.3" fill="#bebebe"/>
<rect x="629.9" y="355.8" width="14.4" height="11.3" fill="#c8ffbe"/>
<rect x="644.3" y="355.8" width="14.4" height="11.3" fill="#b4faaa"/>
<rect x="658.7" y="355.8" width="28.8" height="11.3" fill="#78f573"/>
<rect x="687.5" y="355.8" width="28.8" height="11.3" fill="#c8ffbe"/>
<rect x="716.3" y="355.8" width="28.8" height="11.3" fill="#b4faaa"/>
<rect x="745.1" y="355.8" width="43.2" height="11.3" fill="#c8ffbe"/>
<rect x="788.3" y="355.8" width="57.6" height="11.3" fill="#1eb41e"/>
<rect x="845.9" y="355.8" width="14.4" height="11.3" fill="#c8ffbe"/>
<rect x="860.3" y="355.8" width="28.8" height="11.3" fill="#78f573"/>
<rect x="889.1" y="355.8" width="14.4" height="11.3" fill="#2882f0"/>
<rect x="903.5" y="355.8" width="14.4" height="11.3" fill="#1464d2"/>
<rect x="413.9" y="367.1" width="14.4" height="11.3" fill="#bebebe"/>
<rect x="428.3" y="367.1" width="14.4" height="11.3" fill="#828282"/>
<rect x="442.7" y="367.1" width="43.2" height="11.3" fill="#c8ffbe"/>
<rect x="485.9" y="367.1" width="14.4" height="11.3" fill="#a0a0a0"/>
<rect x="500.3" y="367.1" width="14.4" height="11.3" fill="#bebebe"/>
<rect x="514.7" y="367.1" width="14.4" height="11.3" fill="#d2d2d2"/>
<rect x="673.1" y="367.1" width="14.4" height="11.3" fill="#c8ffbe"/>
<rect x="687.5" y="367.1" width="28.8" height="11.3" fill="#1eb41e"/>
<rect x="716.3" y="367.1" width="28.8" height="11.3" fill="#0fa00f"/>
<rect x="745.1" y="367.1" width="14.4" height="11.3" fill="#b4faaa"/>
<rect x="759.5" y="367.1" width="14.4" height="11.3" fill="#37d23c"/>
<rect x="773.9" y="367.1" width="14.4" height="11.3" fill="#b4faaa"/>
<rect x="788.3" y="367.1" width="14.4" height="11.3" fill="#c8ffbe"/>
<rect x="802.7" y="367.1" width="14.4" height="11.3" fill="#828282"/>
<rect x="817.1" y="367.1" width="14.4" height="11.3" fill="#a0a0a0"/>
<rect x="831.5" y="367.1" width="28.8" height="11.3" fill="#bebebe"/>
<rect x="860.3" y="367.1" width="14.4" height="11.3" fill="#828282"/>
<rect x="874.7" y="367.1" width="43.2" height="11.3" fill="#1eb41e"/>
<rect x="543.5" y="378.4" width="43.2" height="11.3" fill="#bebebe"/>
<rect x="586.7" y="378.4" width="14.4" height="11.3" fill="#a0a0a0"/>
<rect x="601.1" y="378.4" width="14.4" height="11.3" fill="#78f573"/>
<rect x="615.5" y="378.4" width="43.2" height="11.3" fill="#0fa00f"/>
<rect x="658.7" y="378.4" width="14.4" height="11.3" fill="#1eb41e"/>
<rect x="673.1" y="378.4" width="28.8" height="11.3" fill="#c8ffbe"/>
<rect x="701.9" y="378.4" width="14.4" height="11.3" fill="#a0a0a0"/>
<rect x="802.7" y="378.4" width="14.4" height="11.3" fill="#d2d2d2"/>
<rect x="817.1" y="378.4" width="28.8" height="11.3" fill="#bebebe"/>
<rect x="845.9" y="378.4" width="14.4" height="11.3" fill="#a0a0a0"/>
<rect x="860.3" y="378.4" width="28.8" height="11.3" fill="#828282"/>
<rect x="889.1" y="378.4" width="14.4" height="11.3" fill="#c8ffbe"/>
<rect x="903.5" y="378.4" width="14.4" height="11.3" fill="#828282"/>
<rect x="385.1" y="389.7" width="14.4" height="11.3" fill="#d2d2d2"/>
<rect x="399.5" y="389.7" width="57.6" height="11.3" fill="#a0a0a0"/>
<rect x="485.9" y="389.7" width="14.4" height="11.3" fill="#c8ffbe"/>
<rect x="500.3" y="389.7" width="14.4" height="11.3" fill="#1eb41e"/>
<rect x="514.7" y="389.7" width="43.2" height="11.3" fill="#1464d2"/>
<rect x="557.9" y="389.7" width="14.4" height="11.3" fill="#1eb41e"/>
<rect x="572.3" y="389.7" width="14.4" height="11.3" fill="#b4faaa"/>
<rect x="586.7" y="389.7" width="28.8" height="11.3" fill="#1eb41e"/>
<rect x="615.5" y="389.7" width="14.4" height="11.3" fill="#50a5f5"/>
<rect x="629.9" y="389.7" width="14.4" height="11.3" fill="#e1ffff"/>
<rect x="644.3" y="389.7" width="14.4" height="11.3" fill="#fffad2"/>
<rect x="658.7" y="389.7" width="14.4" height="11.3" fill="#fff5aa"/>
<rect x="673.1" y="389.7" width="28.8" height="11.3" fill="#fffad2"/>
<rect x="701.9" y="389.7" width="14.4" height="11.3" fill="#96d2fa"/>
<rect x="716.3" y="389.7" width="14.4" height="11.3" fill="#1464d2"/>
<rect x="730.7" y="389.7" width="14.4" height="11.3" fill="#1eb41e"/>
<rect x="745.1" y="389.7" width="14.4" height="11.3" fill="#b4faaa"/>
<rect x="759.5" y="389.7" width="14.4" height="11.3" fill="#78f573"/>
<rect x="773.9" y="389.7" width="28.8" height="11.3" fill="#b4faaa"/>
<rect x="802.7" y="389.7" width="14.4" height="11.3" fill="#a0a0a0"/>
<rect x="817.1" y="389.7" width="14.4" height="11.3" fill="#37d23c"/>
<rect x="831.5" y="389.7" width="43.2" height="11.3" fill="#1eb41e"/>
<rect x="874.7" y="389.7" width="14.4" height="11.3" fill="#c8ffbe"/>
<rect x="889.1" y="389.7" width="14.4" height="11.3" fill="#828282"/>
<rect x="903.5" y="389.7" width="14.4" height="11.3" fill="#a0a0a0"/>
<rect x="485.9" y="401" width="14.4" height="11.3" fill="#bebebe"/>
<rect x="500.3" y="401" width="43.2" height="11.3" fill="#a0a0a0"/>
<rect x="543.5" y="401" width="14.4" height="11.3" fill="#c8ffbe"/>
<rect x="557.9" y="401" width="28.8" height="11.3" fill="#1eb41e"/>
<rect x="586.7" y="401" width="28.8" height="11.3" fill="#0fa00f"/>
<rect x="615.5" y="401" width="57.6" height="11.3" fill="#2882f0"/>
<rect x="673.1" y="401" width="14.4" height="11.3" fill="#b4faaa"/>
<rect x="687.5" y="401" width="28.8" height="11.3" fill="#78f573"/>
<rect x="716.3" y="401" width="28.8" height="11.3" fill="#2882f0"/>
<rect x="745.1" y="401" width="28.8" height="11.3" fill="#0fa00f"/>
<rect x="773.9" y="401" width="14.4" height="11.3" fill="#c8ffbe"/>
<rect x="788.3" y="401" width="57.6" height="11.3" fill="#78f573"/>
<rect x="845.9" y="401" width="43.2" height="11.3" fill="#d2d2d2"/>
<rect x="889.1" y="401" width="14.4" height="11.3" fill="#c8ffbe"/>
<rect x="903.5" y="401" width="14.4" height="11.3" fill="#b4faaa"/>
<rect x="485.9" y="412.3" width="14.4" height="11.3" fill="#bebebe"/>
<rect x="500.3" y="412.3" width="57.6" height="11.3" fill="#78f573"/>
<rect x="601.1" y="412.3" width="14.4" height="11.3" fill="#bebebe"/>
<rect x="615.5" y="412.3" width="14.4" height="11.3" fill="#37d23c"/>
<rect x="629.9" y="412.3" width="28.8" height="11.3" fill="#1eb41e"/>
<rect x="658.7" y="412.3" width="14.4" height="11.3" fill="#37d23c"/>
<rect x="442.7" y="423.6" width="57.6" height="11.3" fill="#d2d2d2"/>
<rect x="514.7" y="423.6" width="14.4" height="11.3" fill="#a0a0a0"/>
<rect x="529.1" y="423.6" width="14.4" height="11.3" fill="#c8ffbe"/>
<rect x="543.5" y="423.6" width="14.4" height="11.3" fill="#78f573"/>
<rect x="557.9" y="423.6" width="14.4" height="11.3" fill="#50a5f5"/>
<rect x="572.3" y="423.6" width="14.4" height="11.3" fill="#96d2fa"/>
<rect x="586.7" y="423.6" width="28.8" height="11.3" fill="#50a5f5"/>
<rect x="615.5" y="423.6" width="14.4" height="11.3" fill="#37d23c"/>
<rect x="629.9" y="423.6" width="14.4" height="11.3" fill="#b4faaa"/>
<rect x="644.3" y="423.6" width="14.4" height="11.3" fill="#828282"/>
<rect x="716.3" y="423.6" width="14.4" height="11.3" fill="#828282"/>
<rect x="730.7" y="423.6" width="14.4" height="11.3" fill="#c8ffbe"/>
<rect x="745.1" y="423.6" width="14.4" height="11.3" fill="#1eb41e"/>
<rect x="759.5" y="423.6" width="43.2" height="11.3" fill="#1464d2"/>
<rect x="802.7" y="423.6" width="14.4" height="11.3" fill="#1eb41e"/>
<rect x="817.1" y="423.6" width="28.8" height="11.3" fill="#b4faaa"/>
<rect x="845.9" y="423.6" width="14.4" height="11.3" fill="#78f573"/>
<rect x="860.3" y="423.6" width="14.4" height="11.3" fill="#37d23c"/>
<rect x="874.7" y="423.6" width="14.4" height="11.3" fill="#78f573"/>
<rect x="889.1" y="423.6" width="14.4" height="11.3" fill="#c8ffbe"/>
<rect x="903.5" y="423.6" width="14.4" height="11.3" fill="#d2d2d2"/>
<rect x="341.9" y="434.9" width="14.4" height="11.3" fill="#d2d2d2"/>
<rect x="356.3" y="434.9" width="14.4" height="11.3" fill="#bebebe"/>
<rect x="370.7" y="434.9" width="14.4" height="11.3" fill="#b4faaa"/>
<rect x="385.1" y="434.9" width="14.4" height="11.3" fill="#1eb41e"/>
<rect x="399.5" y="434.9" width="28.8" height="11.3" fill="#1464d2"/>
<rect x="428.3" y="434.9" width="14.4" height="11.3" fill="#0fa00f"/>
<rect x="442.7" y="434.9" width="14.4" height="11.3" fill="#37d23c"/>
<rect x="485.9" y="434.9" width="14.4" height="11.3" fill="#bebebe"/>
<rect x="500.3" y="434.9" width="14.4" height="11.3" fill="#828282"/>
<rect x="514.7" y="434.9" width="14.4" height="11.3" fill="#50a5f5"/>
<rect x="529.1" y="434.9" width="28.8" height="11.3" fill="#96d2fa"/>
<rect x="557.9" y="434.9" width="14.4" height="11.3" fill="#50a5f5"/>
<rect x="572.3" y="434.9" width="14.4" height="11.3" fill="#37d23c"/>
<rect x="586.7" y="434.9" width="14.4" height="11.3" fill="#1464d2"/>
<rect x="601.1" y="434.9" width="14.4" height="11.3" fill="#fffad2"/>
<rect x="615.5" y="434.9" width="14.4" height="11.3" fill="#fff5aa"/>
<rect x="629.9" y="434.9" width="14.4" height="11.3" fill="#ffc03c"/>
<rect x="644.3" y="434.9" width="14.4" height="11.3" fill="#ffe878"/>
<rect x="658.7" y="434.9" width="14.4" height="11.3" fill="#fffad2"/>
<rect x="673.1" y="434.9" width="14.4" height="11.3" fill="#50a5f5"/>
<rect x="687.5" y="434.9" width="14.4" height="11.3" fill="#1eb41e"/>
<rect x="701.9" y="434.9" width="14.4" height="11.3" fill="#78f573"/>
<rect x="716.3" y="434.9" width="28.8" height="11.3" fill="#1eb41e"/>
<rect x="745.1" y="434.9" width="28.8" height="11.3" fill="#78f573"/>
<rect x="773.9" y="434.9" width="14.4" height="11.3" fill="#37d23c"/>
<rect x="788.3" y="434.9" width="14.4" height="11.3" fill="#1eb41e"/>
<rect x="802.7" y="434.9" width="14.4" height="11.3" fill="#37d23c"/>
<rect x="817.1" y="434.9" width="14.4" height="11.3" fill="#b4faaa"/>
<rect x="831.5" y="434.9" width="14.4" height="11.3" fill="#bebebe"/>
<rect x="845.9" y="434.9" width="14.4" height="11.3" fill="#d2d2d2"/>
<rect x="860.3" y="434.9" width="14.4" height="11.3" fill="#bebebe"/>
<rect x="874.7" y="434.9" width="28.8" height="11.3" fill="#a0a0a0"/>
<rect x="903.5" y="434.9" width="14.4" height="11.3" fill="#c8ffbe"/>
<rect x="385.1" y="446.2" width="57.6" height="11.3" fill="#d2d2d2"/>
<rect x="442.7" y="446.2" width="43.2" height="11.3" fill="#bebebe"/>
<rect x="485.9" y="446.2" width="28.8" height="11.3" fill="#c8ffbe"/>
<rect x="514.7" y="446.2" width="28.8" height="11.3" fill="#78f573"/>
<rect x="543.5" y="446.2" width="28.8" height="11.3" fill="#c8ffbe"/>
<rect x="500.3" y="457.5" width="14.4" height="11.3" fill="#bebebe"/>
<rect x="514.7" y="457.5" width="14.4" height="11.3" fill="#37d23c"/>
<rect x="529.1" y="457.5" width="28.8" height="11.3" fill="#1eb41e"/>
<rect x="557.9" y="457.5" width="14.4" height="11.3" fill="#37d23c"/>
<rect x="572.3" y="457.5" width="14.4" height="11.3" fill="#a0a0a0"/>
<rect x="586.7" y="457.5" width="14.4" height="11.3" fill="#bebebe"/>
<rect x="658.7" y="457.5" width="14.4" height="11.3" fill="#b4faaa"/>
<rect x="673.1" y="457.5" width="14.4" height="11.3" fill="#1eb41e"/>
<rect x="687.5" y="457.5" width="14.4" height="11.3" fill="#1464d2"/>
<rect x="701.9" y="457.5" width="14.4" height="11.3" fill="#50a5f5"/>
<rect x="716.3" y="457.5" width="14.4" height="11.3" fill="#1464d2"/>
<rect x="730.7" y="457.5" width="14.4" height="11.3" fill="#1eb41e"/>
<rect x="745.1" y="457.5" width="14.4" height="11.3" fill="#78f573"/>
<rect x="759.5" y="457.5" width="14.4" height="11.3" fill="#a0a0a0"/>
<rect x="773.9" y="457.5" width="14.4" height="11.3" fill="#b4faaa"/>
<rect x="788.3" y="457.5" width="43.2" height="11.3" fill="#1eb41e"/>
<rect x="831.5" y="457.5" width="14.4" height="11.3" fill="#78f573"/>
<rect x="845.9" y="457.5" width="14.4" height="11.3" fill="#a0a0a0"/>
<rect x="860.3" y="457.5" width="43.2" height="11.3" fill="#bebebe"/>
<rect x="903.5" y="457.5" width="14.4" height="11.3" fill="#d2d2d2"/>
<rect x="500.3" y="468.8" width="28.8" height="11.3" fill="#c8ffbe"/>
<rect x="529.1" y="468.8" width="28.8" height="11.3" fill="#b4faaa"/>
<rect x="557.9" y="468.8" width="14.4" height="11.3" fill="#bebebe"/>
<rect x="572.3" y="468.8" width="14.4" height="11.3" fill="#b4faaa"/>
<rect x="586.7" y="468.8" width="14.4" height="11.3" fill="#78f573"/>
<rect x="601.1" y="468.8" width="28.8" height="11.3" fill="#37d23c"/>
<rect x="629.9" y="468.8" width="14.4" height="11.3" fill="#78f573"/>
<rect x="644.3" y="468.8" width="14.4" height="11.3" fill="#1464d2"/>
<rect x="658.7" y="468.8" width="14.4" height="11.3" fill="#2882f0"/>
<rect x="673.1" y="468.8" width="28.8" height="11.3" fill="#1464d2"/>
<rect x="701.9" y="468.8" width="14.4" height="11.3" fill="#c8ffbe"/>
<rect x="716.3" y="468.8" width="14.4" height="11.3" fill="#37d23c"/>
<rect x="730.7" y="468.8" width="28.8" height="11.3" fill="#1eb41e"/>
<rect x="759.5" y="468.8" width="14.4" height="11.3" fill="#1464d2"/>
<rect x="773.9" y="468.8" width="14.4" height="11.3" fill="#37d23c"/>
<rect x="788.3" y="468.8" width="28.8" height="11.3" fill="#78f573"/>
<rect x="817.1" y="468.8" width="14.4" height="11.3" fill="#828282"/>
<rect x="831.5" y="468.8" width="14.4" height="11.3" fill="#c8ffbe"/>
<rect x="845.9" y="468.8" width="14.4" height="11.3" fill="#828282"/>
<rect x="860.3" y="468.8" width="14.4" height="11.3" fill="#b4faaa"/>
<rect x="874.7" y="468.8" width="14.4" height="11.3" fill="#828282"/>
<rect x="889.1" y="468.8" width="28.8" height="11.3" fill="#a0a0a0"/>
<rect x="399.5" y="480.1" width="14.4" height="11.3" fill="#d2d2d2"/>
<rect x="413.9" y="480.1" width="14.4" height="11.3" fill="#a0a0a0"/>
<rect x="428.3" y="480.1" width="14.4" height="11.3" fill="#37d23c"/>
<rect x="442.7" y="480.1" width="28.8" height="11.3" fill="#1eb41e"/>
<rect x="471.5" y="480.1" width="14.4" height="11.3" fill="#37d23c"/>
<rect x="485.9" y="480.1" width="14.4" height="11.3" fill="#c8ffbe"/>
<rect x="514.7" y="480.1" width="14.4" height="11.3" fill="#bebebe"/>
<rect x="529.1" y="480.1" width="14.4" height="11.3" fill="#a0a0a0"/>
<rect x="543.5" y="480.1" width="14.4" height="11.3" fill="#b4faaa"/>
<rect x="557.9" y="480.1" width="28.8" height="11.3" fill="#1eb41e"/>
<rect x="586.7" y="480.1" width="14.4" height="11.3" fill="#0fa00f"/>
<rect x="601.1" y="480.1" width="28.8" height="11.3" fill="#1eb41e"/>
<rect x="629.9" y="480.1" width="14.4" height="11.3" fill="#0fa00f"/>
<rect x="644.3" y="480.1" width="28.8" height="11.3" fill="#1464d2"/>
<rect x="673.1" y="480.1" width="14.4" height="11.3" fill="#1eb41e"/>
<rect x="687.5" y="480.1" width="14.4" height="11.3" fill="#b4faaa"/>
<rect x="716.3" y="480.1" width="43.2" height="11.3" fill="#828282"/>
<rect x="759.5" y="480.1" width="14.4" height="11.3" fill="#c8ffbe"/>
<rect x="773.9" y="480.1" width="43.2" height="11.3" fill="#a0a0a0"/>
<rect x="817.1" y="480.1" width="14.4" height="11.3" fill="#d2d2d2"/>
<rect x="471.5" y="491.4" width="14.4" height="11.3" fill="#d2d2d2"/>
<rect x="485.9" y="491.4" width="14.4" height="11.3" fill="#37d23c"/>
<rect x="500.3" y="491.4" width="28.8" height="11.3" fill="#0fa00f"/>
<rect x="529.1" y="491.4" width="14.4" height="11.3" fill="#1eb41e"/>
<rect x="543.5" y="491.4" width="14.4" height="11.3" fill="#b4faaa"/>
<rect x="572.3" y="491.4" width="14.4" height="11.3" fill="#bebebe"/>
<rect x="586.7" y="491.4" width="14.4" height="11.3" fill="#37d23c"/>
<rect x="601.1" y="491.4" width="14.4" height="11.3" fill="#1eb41e"/>
<rect x="615.5" y="491.4" width="14.4" height="11.3" fill="#0fa00f"/>
<rect x="629.9" y="491.4" width="28.8" height="11.3" fill="#1eb41e"/>
<rect x="658.7" y="491.4" width="14.4" height="11.3" fill="#0fa00f"/>
<rect x="673.1" y="491.4" width="43.2" height="11.3" fill="#1eb41e"/>
<rect x="716.3" y="491.4" width="43.2" height="11.3" fill="#1464d2"/>
<rect x="759.5" y="491.4" width="14.4" height="11.3" fill="#1eb41e"/>
<rect x="773.9" y="491.4" width="14.4" height="11.3" fill="#a0a0a0"/>
<rect x="788.3" y="491.4" width="14.4" height="11.3" fill="#78f573"/>
<rect x="802.7" y="491.4" width="14.4" height="11.3" fill="#1eb41e"/>
<rect x="817.1" y="491.4" width="14.4" height="11.3" fill="#1464d2"/>
<rect x="831.5" y="491.4" width="14.4" height="11.3" fill="#2882f0"/>
<rect x="845.9" y="491.4" width="14.4" height="11.3" fill="#0fa00f"/>
<rect x="860.3" y="491.4" width="14.4" height="11.3" fill="#1eb41e"/>
<rect x="874.7" y="491.4" width="14.4" height="11.3" fill="#b4faaa"/>
<rect x="370.7" y="502.7" width="43.2" height="11.3" fill="#d2d2d2"/>
<rect x="485.9" y="502.7" width="14.4" height="11.3" fill="#b4faaa"/>
<rect x="500.3" y="502.7" width="14.4" height="11.3" fill="#78f573"/>
<rect x="514.7" y="502.7" width="28.8" height="11.3" fill="#37d23c"/>
<rect x="543.5" y="502.7" width="14.4" height="11.3" fill="#c8ffbe"/>
<rect x="557.9" y="502.7" width="14.4" height="11.3" fill="#37d23c"/>
<rect x="572.3" y="502.7" width="14.4" height="11.3" fill="#1eb41e"/>
<rect x="586.7" y="502.7" width="14.4" height="11.3" fill="#2882f0"/>
<rect x="601.1" y="502.7" width="14.4" height="11.3" fill="#50a5f5"/>
<rect x="615.5" y="502.7" width="14.4" height="11.3" fill="#96d2fa"/>
<rect x="629.9" y="502.7" width="28.8" height="11.3" fill="#fffad2"/>
<rect x="658.7" y="502.7" width="14.4" height="11.3" fill="#ffe878"/>
<rect x="673.1" y="502.7" width="14.4" height="11.3" fill="#ff6000"/>
<rect x="687.5" y="502.7" width="28.8" height="11.3" fill="#ff3200"/>
<rect x="716.3" y="502.7" width="14.4" height="11.3" fill="#ff6000"/>
<rect x="730.7" y="502.7" width="14.4" height="11.3" fill="#ffe878"/>
<rect x="745.1" y="502.7" width="14.4" height="11.3" fill="#50a5f5"/>
<rect x="759.5" y="502.7" width="14.4" height="11.3" fill="#1eb41e"/>
<rect x="773.9" y="502.7" width="14.4" height="11.3" fill="#37d23c"/>
<rect x="788.3" y="502.7" width="14.4" height="11.3" fill="#1eb41e"/>
<rect x="802.7" y="502.7" width="14.4" height="11.3" fill="#0fa00f"/>
<rect x="817.1" y="502.7" width="14.4" height="11.3" fill="#2882f0"/>
<rect x="831.5" y="502.7" width="14.4" height="11.3" fill="#0fa00f"/>
<rect x="845.9" y="502.7" width="28.8" height="11.3" fill="#37d23c"/>
<rect x="874.7" y="502.7" width="14.4" height="11.3" fill="#828282"/>
<rect x="889.1" y="502.7" width="14.4" height="11.3" fill="#a0a0a0"/>
<rect x="903.5" y="502.7" width="14.4" height="11.3" fill="#bebebe"/>
<rect x="485.9" y="514" width="14.4" height="11.3" fill="#78f573"/>
<rect x="500.3" y="514" width="14.4" height="11.3" fill="#1eb41e"/>
<rect x="514.7" y="514" width="43.2" height="11.3" fill="#0fa00f"/>
<rect x="557.9" y="514" width="28.8" height="11.3" fill="#b4faaa"/>
<rect x="586.7" y="514" width="14.4" height="11.3" fill="#a0a0a0"/>
<rect x="601.1" y="514" width="14.4" height="11.3" fill="#d2d2d2"/>
<rect x="615.5" y="514" width="43.2" height="11.3" fill="#78f573"/>
<rect x="658.7" y="514" width="14.4" height="11.3" fill="#37d23c"/>
<rect x="673.1" y="514" width="14.4" height="11.3" fill="#b4faaa"/>
<rect x="687.5" y="514" width="43.2" height="11.3" fill="#37d23c"/>
<rect x="730.7" y="514" width="14.4" height="11.3" fill="#78f573"/>
<rect x="745.1" y="514" width="14.4" height="11.3" fill="#c8ffbe"/>
<rect x="759.5" y="514" width="14.4" height="11.3" fill="#828282"/>
<rect x="773.9" y="514" width="14.4" height="11.3" fill="#a0a0a0"/>
<rect x="802.7" y="514" width="28.8" height="11.3" fill="#bebebe"/>
<rect x="831.5" y="514" width="28.8" height="11.3" fill="#a0a0a0"/>
<rect x="860.3" y="514" width="14.4" height="11.3" fill="#bebebe"/>
<rect x="874.7" y="514" width="14.4" height="11.3" fill="#a0a0a0"/>
<rect x="889.1" y="514" width="28.8" height="11.3" fill="#37d23c"/>
<rect x="399.5" y="525.3" width="57.6" height="11.3" fill="#a0a0a0"/>
<rect x="514.7" y="525.3" width="57.6" height="11.3" fill="#c8ffbe"/>
<rect x="572.3" y="525.3" width="14.4" height="11.3" fill="#bebebe"/>
<rect x="586.7" y="525.3" width="14.4" height="11.3" fill="#c8ffbe"/>
<rect x="601.1" y="525.3" width="43.2" height="11.3" fill="#0fa00f"/>
<rect x="644.3" y="525.3" width="14.4" height="11.3" fill="#50a5f5"/>
<rect x="658.7" y="525.3" width="14.4" height="11.3" fill="#2882f0"/>
<rect x="673.1" y="525.3" width="14.4" height="11.3" fill="#50a5f5"/>
<rect x="687.5" y="525.3" width="14.4" height="11.3" fill="#96d2fa"/>
<rect x="701.9" y="525.3" width="14.4" height="11.3" fill="#1eb41e"/>
<rect x="716.3" y="525.3" width="14.4" height="11.3" fill="#37d23c"/>
<rect x="730.7" y="525.3" width="14.4" height="11.3" fill="#c8ffbe"/>
<rect x="745.1" y="525.3" width="14.4" height="11.3" fill="#828282"/>
<rect x="759.5" y="525.3" width="43.2" height="11.3" fill="#b4faaa"/>
<rect x="802.7" y="525.3" width="14.4" height="11.3" fill="#828282"/>
<rect x="197.9" y="536.6" width="57.6" height="11.3" fill="#bebebe"/>
<rect x="644.3" y="536.6" width="14.4" height="11.3" fill="#d2d2d2"/>
<rect x="658.7" y="536.6" width="28.8" height="11.3" fill="#a0a0a0"/>
<rect x="687.5" y="536.6" width="28.8" height="11.3" fill="#bebebe"/>
<rect x="817.1" y="536.6" width="28.8" height="11.3" fill="#d2d2d2"/>
<rect x="845.9" y="536.6" width="14.4" height="11.3" fill="#bebebe"/>
<rect x="860.3" y="536.6" width="28.8" height="11.3" fill="#a0a0a0"/>
<rect x="889.1" y="536.6" width="14.4" height="11.3" fill="#b4faaa"/>
<rect x="903.5" y="536.6" width="14.4" height="11.3" fill="#78f573"/>
<rect x="500.3" y="547.9" width="14.4" height="11.3" fill="#c8ffbe"/>
<rect x="514.7" y="547.9" width="100.8" height="11.3" fill="#b4faaa"/>
<rect x="615.5" y="547.9" width="43.2" height="11.3" fill="#c8ffbe"/>
<rect x="658.7" y="547.9" width="14.4" height="11.3" fill="#828282"/>
<rect x="673.1" y="547.9" width="14.4" height="11.3" fill="#d2d2d2"/>
<rect x="687.5" y="547.9" width="14.4" height="11.3" fill="#bebebe"/>
<rect x="701.9" y="547.9" width="57.6" height="11.3" fill="#b4faaa"/>
<rect x="759.5" y="547.9" width="28.8" height="11.3" fill="#78f573"/>
<rect x="788.3" y="547.9" width="14.4" height="11.3" fill="#1eb41e"/>
<rect x="802.7" y="547.9" width="28.8" height="11.3" fill="#1464d2"/>
<rect x="831.5" y="547.9" width="28.8" height="11.3" fill="#50a5f5"/>
<rect x="860.3" y="547.9" width="28.8" height="11.3" fill="#2882f0"/>
<rect x="889.1" y="547.9" width="14.4" height="11.3" fill="#fffad2"/>
<rect x="903.5" y="547.9" width="14.4" height="11.3" fill="#e1ffff"/>
<rect x="370.7" y="559.2" width="14.4" height="11.3" fill="#b4faaa"/>
<rect x="385.1" y="559.2" width="14.4" height="11.3" fill="#37d23c"/>
<rect x="399.5" y="559.2" width="14.4" height="11.3" fill="#0fa00f"/>
<rect x="413.9" y="559.2" width="14.4" height="11.3" fill="#1464d2"/>
<rect x="428.3" y="559.2" width="14.4" height="11.3" fill="#0fa00f"/>
<rect x="442.7" y="559.2" width="14.4" height="11.3" fill="#37d23c"/>
<rect x="457.1" y="559.2" width="14.4" height="11.3" fill="#bebebe"/>
<rect x="485.9" y="559.2" width="14.4" height="11.3" fill="#bebebe"/>
<rect x="500.3" y="559.2" width="14.4" height="11.3" fill="#a0a0a0"/>
<rect x="514.7" y="559.2" width="14.4" height="11.3" fill="#1eb41e"/>
<rect x="529.1" y="559.2" width="28.8" height="11.3" fill="#2882f0"/>
<rect x="557.9" y="559.2" width="14.4" height="11.3" fill="#50a5f5"/>
<rect x="572.3" y="559.2" width="14.4" height="11.3" fill="#1464d2"/>
<rect x="586.7" y="559.2" width="14.4" height="11.3" fill="#1eb41e"/>
<rect x="601.1" y="559.2" width="14.4" height="11.3" fill="#b4faaa"/>
<rect x="615.5" y="559.2" width="14.4" height="11.3" fill="#c8ffbe"/>
<rect x="629.9" y="559.2" width="14.4" height="11.3" fill="#828282"/>
<rect x="644.3" y="559.2" width="14.4" height="11.3" fill="#c8ffbe"/>
<rect x="658.7" y="559.2" width="57.6" height="11.3" fill="#1eb41e"/>
<rect x="716.3" y="559.2" width="14.4" height="11.3" fill="#a0a0a0"/>
<rect x="730.7" y="559.2" width="14.4" height="11.3" fill="#37d23c"/>
<rect x="745.1" y="559.2" width="14.4" height="11.3" fill="#0fa00f"/>
<rect x="759.5" y="559.2" width="14.4" height="11.3" fill="#2882f0"/>
<rect x="773.9" y="559.2" width="14.4" height="11.3" fill="#50a5f5"/>
<rect x="788.3" y="559.2" width="14.4" height="11.3" fill="#2882f0"/>
<rect x="802.7" y="559.2" width="14.4" height="11.3" fill="#0fa00f"/>
<rect x="817.1" y="559.2" width="14.4" height="11.3" fill="#1eb41e"/>
<rect x="831.5" y="559.2" width="14.4" height="11.3" fill="#c8ffbe"/>
<rect x="687.5" y="570.5" width="43.2" height="11.3" fill="#a0a0a0"/>
<rect x="730.7" y="570.5" width="28.8" height="11.3" fill="#1eb41e"/>
<rect x="759.5" y="570.5" width="28.8" height="11.3" fill="#0fa00f"/>
<rect x="788.3" y="570.5" width="14.4" height="11.3" fill="#b4faaa"/>
<rect x="802.7" y="570.5" width="14.4" height="11.3" fill="#c8ffbe"/>
<rect x="817.1" y="570.5" width="14.4" height="11.3" fill="#a0a0a0"/>
<rect x="831.5" y="570.5" width="28.8" height="11.3" fill="#c8ffbe"/>
<rect x="860.3" y="570.5" width="14.4" height="11.3" fill="#828282"/>
<rect x="874.7" y="570.5" width="14.4" height="11.3" fill="#a0a0a0"/>
<rect x="543.5" y="581.8" width="57.6" height="11.3" fill="#bebebe"/>
<rect x="644.3" y="581.8" width="43.2" height="11.3" fill="#828282"/>
<rect x="687.5" y="581.8" width="14.4" height="11.3" fill="#c8ffbe"/>
<rect x="701.9" y="581.8" width="14.4" height="11.3" fill="#bebebe"/>
<rect x="716.3" y="581.8" width="14.4" height="11.3" fill="#b4faaa"/>
<rect x="730.7" y="581.8" width="43.2" height="11.3" fill="#78f573"/>
<rect x="773.9" y="581.8" width="28.8" height="11.3" fill="#a0a0a0"/>
<rect x="802.7" y="581.8" width="14.4" height="11.3" fill="#828282"/>
<rect x="817.1" y="581.8" width="28.8" height="11.3" fill="#a0a0a0"/>
<rect x="845.9" y="581.8" width="72" height="11.3" fill="#bebebe"/>
<rect x="356.3" y="593.1" width="14.4" height="11.3" fill="#bebebe"/>
<rect x="370.7" y="593.1" width="14.4" height="11.3" fill="#78f573"/>
<rect x="385.1" y="593.1" width="43.2" height="11.3" fill="#0fa00f"/>
<rect x="428.3" y="593.1" width="14.4" height="11.3" fill="#37d23c"/>
<rect x="442.7" y="593.1" width="14.4" height="11.3" fill="#a0a0a0"/>
<rect x="457.1" y="593.1" width="14.4" height="11.3" fill="#bebebe"/>
<rect x="471.5" y="593.1" width="14.4" height="11.3" fill="#d2d2d2"/>
<rect x="500.3" y="593.1" width="14.4" height="11.3" fill="#c8ffbe"/>
<rect x="514.7" y="593.1" width="14.4" height="11.3" fill="#78f573"/>
<rect x="529.1" y="593.1" width="28.8" height="11.3" fill="#1eb41e"/>
<rect x="557.9" y="593.1" width="14.4" height="11.3" fill="#37d23c"/>
<rect x="572.3" y="593.1" width="28.8" height="11.3" fill="#1eb41e"/>
<rect x="601.1" y="593.1" width="28.8" height="11.3" fill="#e1ffff"/>
<rect x="629.9" y="593.1" width="14.4" height="11.3" fill="#96d2fa"/>
<rect x="644.3" y="593.1" width="14.4" height="11.3" fill="#50a5f5"/>
<rect x="658.7" y="593.1" width="14.4" height="11.3" fill="#e1ffff"/>
<rect x="673.1" y="593.1" width="14.4" height="11.3" fill="#fff5aa"/>
<rect x="687.5" y="593.1" width="14.4" height="11.3" fill="#ffe878"/>
<rect x="701.9" y="593.1" width="14.4" height="11.3" fill="#fff5aa"/>
<rect x="716.3" y="593.1" width="14.4" height="11.3" fill="#50a5f5"/>
<rect x="730.7" y="593.1" width="14.4" height="11.3" fill="#78f573"/>
<rect x="745.1" y="593.1" width="14.4" height="11.3" fill="#37d23c"/>
<rect x="759.5" y="593.1" width="14.4" height="11.3" fill="#78f573"/>
<rect x="773.9" y="593.1" width="28.8" height="11.3" fill="#b4faaa"/>
<rect x="802.7" y="593.1" width="28.8" height="11.3" fill="#828282"/>
<rect x="831.5" y="593.1" width="14.4" height="11.3" fill="#bebebe"/>
<rect x="845.9" y="593.1" width="28.8" height="11.3" fill="#d2d2d2"/>
<rect x="385.1" y="604.4" width="57.6" height="11.3" fill="#d2d2d2"/>
<rect x="500.3" y="604.4" width="28.8" height="11.3" fill="#bebebe"/>
<rect x="529.1" y="604.4" width="28.8" height="11.3" fill="#a0a0a0"/>
<rect x="586.7" y="604.4" width="28.8" height="11.3" fill="#bebebe"/>
<rect x="615.5" y="604.4" width="14.4" height="11.3" fill="#b4faaa"/>
<rect x="629.9" y="604.4" width="28.8" height="11.3" fill="#0fa00f"/>
<rect x="658.7" y="604.4" width="14.4" height="11.3" fill="#1464d2"/>
<rect x="673.1" y="604.4" width="14.4" height="11.3" fill="#1eb41e"/>
<rect x="687.5" y="604.4" width="28.8" height="11.3" fill="#a0a0a0"/>
<rect x="716.3" y="604.4" width="14.4" height="11.3" fill="#d2d2d2"/>
<rect x="730.7" y="604.4" width="14.4" height="11.3" fill="#c8ffbe"/>
<rect x="745.1" y="604.4" width="14.4" height="11.3" fill="#b4faaa"/>
<rect x="759.5" y="604.4" width="28.8" height="11.3" fill="#37d23c"/>
<rect x="788.3" y="604.4" width="14.4" height="11.3" fill="#78f573"/>
<rect x="802.7" y="604.4" width="14.4" height="11.3" fill="#1eb41e"/>
<rect x="817.1" y="604.4" width="14.4" height="11.3" fill="#96d2fa"/>
<rect x="831.5" y="604.4" width="14.4" height="11.3" fill="#fff5aa"/>
<rect x="845.9" y="604.4" width="14.4" height="11.3" fill="#ffc03c"/>
<rect x="860.3" y="604.4" width="14.4" height="11.3" fill="#ff6000"/>
<rect x="874.7" y="604.4" width="14.4" height="11.3" fill="#ffa000"/>
<rect x="889.1" y="604.4" width="14.4" height="11.3" fill="#ffe878"/>
<rect x="903.5" y="604.4" width="14.4" height="11.3" fill="#fffad2"/>
<rect x="485.9" y="615.7" width="14.4" height="11.3" fill="#b4faaa"/>
<rect x="500.3" y="615.7" width="14.4" height="11.3" fill="#1eb41e"/>
<rect x="514.7" y="615.7" width="14.4" height="11.3" fill="#2882f0"/>
<rect x="529.1" y="615.7" width="14.4" height="11.3" fill="#50a5f5"/>
<rect x="543.5" y="615.7" width="14.4" height="11.3" fill="#2882f0"/>
<rect x="557.9" y="615.7" width="14.4" height="11.3" fill="#1464d2"/>
<rect x="572.3" y="615.7" width="28.8" height="11.3" fill="#b4faaa"/>
<rect x="601.1" y="615.7" width="28.8" height="11.3" fill="#0fa00f"/>
<rect x="629.9" y="615.7" width="28.8" height="11.3" fill="#1464d2"/>
<rect x="658.7" y="615.7" width="14.4" height="11.3" fill="#0fa00f"/>
<rect x="673.1" y="615.7" width="14.4" height="11.3" fill="#37d23c"/>
<rect x="687.5" y="615.7" width="28.8" height="11.3" fill="#c8ffbe"/>
<rect x="716.3" y="615.7" width="28.8" height="11.3" fill="#828282"/>
<rect x="745.1" y="615.7" width="14.4" height="11.3" fill="#bebebe"/>
<rect x="759.5" y="615.7" width="14.4" height="11.3" fill="#a0a0a0"/>
<rect x="773.9" y="615.7" width="14.4" height="11.3" fill="#b4faaa"/>
<rect x="788.3" y="615.7" width="14.4" height="11.3" fill="#0fa00f"/>
<rect x="802.7" y="615.7" width="14.4" height="11.3" fill="#50a5f5"/>
<rect x="817.1" y="615.7" width="14.4" height="11.3" fill="#96d2fa"/>
<rect x="831.5" y="615.7" width="14.4" height="11.3" fill="#50a5f5"/>
<rect x="845.9" y="615.7" width="14.4" height="11.3" fill="#1464d2"/>
<rect x="860.3" y="615.7" width="14.4" height="11.3" fill="#78f573"/>
<rect x="874.7" y="615.7" width="14.4" height="11.3" fill="#d2d2d2"/>
<rect x="226.7" y="695.5" width="14.4" height="26.6" fill="#d2d2d2"/>
<rect x="370.7" y="695.5" width="28.8" height="26.6" fill="#bebebe"/>
<rect x="399.5" y="695.5" width="43.2" height="26.6" fill="#a0a0a0"/>
<rect x="442.7" y="695.5" width="43.2" height="26.6" fill="#bebebe"/>
<rect x="485.9" y="695.5" width="14.4" height="26.6" fill="#a0a0a0"/>
<rect x="500.3" y="695.5" width="14.4" height="26.6" fill="#c8ffbe"/>
<rect x="514.7" y="695.5" width="14.4" height="26.6" fill="#b4faaa"/>
<rect x="529.1" y="695.5" width="14.4" height="26.6" fill="#78f573"/>
<rect x="543.5" y="695.5" width="72" height="26.6" fill="#37d23c"/>
<rect x="615.5" y="695.5" width="86.4" height="26.6" fill="#1eb41e"/>
<rect x="701.9" y="695.5" width="28.8" height="26.6" fill="#37d23c"/>
<rect x="730.7" y="695.5" width="14.4" height="26.6" fill="#78f573"/>
<rect x="745.1" y="695.5" width="14.4" height="26.6" fill="#b4faaa"/>
<rect x="759.5" y="695.5" width="57.6" height="26.6" fill="#78f573"/>
<rect x="817.1" y="695.5" width="14.4" height="26.6" fill="#b4faaa"/>
<rect x="831.5" y="695.5" width="57.6" height="26.6" fill="#78f573"/>
<rect x="889.1" y="695.5" width="28.8" height="26.6" fill="#37d23c"/>
<rect x="974" y="44.7" width="18" height="16.53" fill="#ff96ff"/>
<rect x="974" y="60.73" width="18" height="16.53" fill="#ff78ff"/>
<rect x="974" y="76.76" width="18" height="16.53" fill="#ff50ff"/>
<rect x="974" y="92.79" width="18" height="16.53" fill="#ff00ff"/>
<rect x="974" y="108.82" width="18" height="16.53" fill="#e100e1"/>
<rect x="974" y="124.85" width="18" height="16.53" fill="#8c008c"/>
<rect x="974" y="140.88" width="18" height="16.53" fill="#780078"/>
<rect x="974" y="156.91" width="18" height="16.53" fill="#695294"/>
<rect x="974" y="172.94" width="18" height="16.53" fill="#8270b0"/>
<rect x="974" y="188.97" width="18" height="16.53" fill="#9b89bd"/>
<rect x="974" y="205" width="18" height="16.53" fill="#c0b4d7"/>
<rect x="974" y="221.03" width="18" height="16.53" fill="#cfc8df"/>
<rect x="974" y="237.06" width="18" height="16.53" fill="#f0dcd2"/>
<rect x="974" y="253.09" width="18" height="16.53" fill="#c8a096"/>
<rect x="974" y="269.12" width="18" height="16.53" fill="#b48c82"/>
<rect x="974" y="285.15" width="18" height="16.53" fill="#8c645a"/>
<rect x="974" y="301.18" width="18" height="16.53" fill="#643c32"/>
<rect x="974" y="317.21" width="18" height="16.53" fill="#870000"/>
<rect x="974" y="333.24" width="18" height="16.53" fill="#a50000"/>
<rect x="974" y="349.27" width="18" height="16.53" fill="#c00000"/>
<rect x="974" y="365.3" width="18" height="16.53" fill="#e11400"/>
<rect x="974" y="381.33" width="18" height="16.53" fill="#ff3200"/>
<rect x="974" y="397.36" width="18" height="16.53" fill="#ff6000"/>
<rect x="974" y="413.39" width="18" height="16.53" fill="#ffa000"/>
<rect x="974" y="429.42" width="18" height="16.53" fill="#ffc03c"/>
<rect x="974" y="445.45" width="18" height="16.53" fill="#ffe878"/>
<rect x="974" y="461.48" width="18" height="16.53" fill="#fff5aa"/>
<rect x="974" y="477.51" width="18" height="16.53" fill="#fffad2"/>
<rect x="974" y="493.54" width="18" height="16.53" fill="#e1ffff"/>
<rect x="974" y="509.57" width="18" height="16.53" fill="#96d2fa"/>
<rect x="974" y="525.6" width="18" height="16.53" fill="#50a5f5"/>
<rect x="974" y="541.63" width="18" height="16.53" fill="#2882f0"/>
<rect x="974" y="557.66" width="18" height="16.53" fill="#1464d2"/>
<rect x="974" y="573.69" width="18" height="16.53" fill="#0fa00f"/>
<rect x="974" y="589.72" width="18" height="16.53" fill="#1eb41e"/>
<rect x="974" y="605.75" width="18" height="16.53" fill="#37d23c"/>
<rect x="974" y="621.78" width="18" height="16.53" fill="#78f573"/>
<rect x="974" y="637.81" width="18" height="16.53" fill="#b4faaa"/>
<rect x="974" y="653.84" width="18" height="16.53" fill="#c8ffbe"/>
<rect x="974" y="669.87" width="18" height="16.53" fill="#828282"/>
<rect x="974" y="685.9" width="18" height="16.53" fill="#a0a0a0"/>
<rect x="974" y="701.93" width="18" height="16.53" fill="#bebebe"/>
<rect x="974" y="717.96" width="18" height="16.53" fill="#d2d2d2"/>
<rect x="0" y="767.8" width="1024" height="21" fill="#000"/>
</g>
</svg>
<svg class="top" width="1024" height="788" viewBox="0 0 1024 788">
<g font-size="11.5" text-anchor="middle" stroke="#000" stroke-width="0.2">
<text x="507.5" y="60">0.3</text>
<text x="536.3" y="60" fill="#fff" stroke="#fff">0.6</text>
<text x="565.1" y="60" fill="#fff" stroke="#fff">0.5</text>
<text x="593.9" y="60">1.1</text>
<text x="622.7" y="60">1.9</text>
<text x="651.5" y="60">2.6</text>
<text x="680.3" y="60">1.8</text>
<text x="709.1" y="60" fill="#fff" stroke="#fff">0.5</text>
<text x="737.9" y="60">0.3</text>
<text x="593.9" y="71.3">0.2</text>
<text x="766.7" y="71.3">0.1</text>
<text x="795.5" y="71.3">0.2</text>
<text x="507.5" y="82.6">0.1</text>
<text x="565.1" y="82.6">0.2</text>
<text x="593.9" y="82.6" fill="#fff" stroke="#fff">0.4</text>
<text x="622.7" y="82.6">0.7</text>
<text x="651.5" y="82.6">0.8</text>
<text x="680.3" y="82.6">0.3</text>
<text x="709.1" y="82.6">0.2</text>
<text x="737.9" y="82.6">0.2</text>
<text x="795.5" y="82.6">0.2</text>
<text x="824.3" y="82.6">0.3</text>
<text x="824.3" y="93.9">0.1</text>
<text x="853.1" y="93.9">0.2</text>
<text x="881.9" y="93.9">1.4</text>
<text x="910.7" y="93.9">2.9</text>
<text x="219.5" y="105.2">0.2</text>
<text x="248.3" y="105.2">0.3</text>
<text x="277.1" y="105.2">0.1</text>
<text x="536.3" y="105.2">0.2</text>
<text x="565.1" y="105.2">0.8</text>
<text x="593.9" y="105.2">1.5</text>
<text x="622.7" y="105.2">0.9</text>
<text x="680.3" y="116.5">0.2</text>
<text x="709.1" y="116.5">0.3</text>
<text x="737.9" y="116.5">0.2</text>
<text x="766.7" y="116.5">0.2</text>
<text x="795.5" y="116.5">0.1</text>
<text x="824.3" y="116.5">0.2</text>
<text x="853.1" y="116.5" fill="#fff" stroke="#fff">0.4</text>
<text x="881.9" y="116.5">0.3</text>
<text x="910.7" y="116.5">0.3</text>
<text x="565.1" y="127.8">0.3</text>
<text x="593.9" y="127.8" fill="#fff" stroke="#fff">0.4</text>
<text x="622.7" y="127.8">0.2</text>
<text x="766.7" y="127.8" fill="#fff" stroke="#fff">0.5</text>
<text x="795.5" y="127.8" fill="#fff" stroke="#fff">0.6</text>
<text x="881.9" y="127.8">0.4</text>
<text x="910.7" y="127.8">0.4</text>
<text x="507.5" y="139.1">0.2</text>
<text x="536.3" y="139.1">0.3</text>
<text x="766.7" y="139.1">0.3</text>
<text x="795.5" y="139.1">0.3</text>
<text x="536.3" y="150.4" fill="#fff" stroke="#fff">0.4</text>
<text x="565.1" y="150.4" fill="#fff" stroke="#fff">0.4</text>
<text x="680.3" y="150.4">0.3</text>
<text x="709.1" y="150.4">0.4</text>
<text x="737.9" y="150.4">0.2</text>
<text x="766.7" y="150.4">0.2</text>
<text x="795.5" y="150.4">0.2</text>
<text x="565.1" y="161.7">0.2</text>
<text x="593.9" y="161.7">0.2</text>
<text x="622.7" y="161.7">0.3</text>
<text x="651.5" y="161.7" fill="#fff" stroke="#fff">0.5</text>
<text x="680.3" y="161.7" fill="#fff" stroke="#fff">0.4</text>
<text x="709.1" y="161.7" fill="#fff" stroke="#fff">0.7</text>
<text x="737.9" y="161.7" fill="#fff" stroke="#fff">0.5</text>
<text x="565.1" y="173">0.2</text>
<text x="593.9" y="173">0.1</text>
<text x="680.3" y="173">0.1</text>
<text x="709.1" y="173">0.1</text>
<text x="766.7" y="173">0.1</text>
<text x="795.5" y="173" fill="#fff" stroke="#fff">0.6</text>
<text x="824.3" y="173">1.3</text>
<text x="853.1" y="173">1.6</text>
<text x="881.9" y="173">1.1</text>
<text x="910.7" y="173" fill="#fff" stroke="#fff">0.6</text>
<text x="392.3" y="184.3">0.1</text>
<text x="421.1" y="184.3">0.1</text>
<text x="565.1" y="184.3" fill="#fff" stroke="#fff">0.5</text>
<text x="593.9" y="184.3" fill="#fff" stroke="#fff">0.5</text>
<text x="766.7" y="184.3" fill="#fff" stroke="#fff">0.4</text>
<text x="795.5" y="184.3">0.3</text>
<text x="421.1" y="195.6">0.1</text>
<text x="449.9" y="195.6">0.1</text>
<text x="478.7" y="195.6">0.3</text>
<text x="507.5" y="195.6" fill="#fff" stroke="#fff">0.5</text>
<text x="536.3" y="195.6">0.3</text>
<text x="565.1" y="195.6">1.6</text>
<text x="593.9" y="195.6">1.7</text>
<text x="622.7" y="195.6">0.9</text>
<text x="651.5" y="195.6">1.1</text>
<text x="680.3" y="195.6" fill="#fff" stroke="#fff">0.5</text>
<text x="709.1" y="195.6">0.2</text>
<text x="737.9" y="195.6">0.3</text>
<text x="766.7" y="195.6">0.4</text>
<text x="795.5" y="195.6">0.2</text>
<text x="824.3" y="195.6">0.3</text>
<text x="853.1" y="195.6">0.9</text>
<text x="881.9" y="195.6">1.5</text>
<text x="910.7" y="195.6">2.7</text>
<text x="421.1" y="206.9">0.2</text>
<text x="449.9" y="206.9">0.2</text>
<text x="536.3" y="206.9">0.1</text>
<text x="680.3" y="206.9">0.2</text>
<text x="709.1" y="206.9">0.1</text>
<text x="766.7" y="206.9">0.1</text>
<text x="853.1" y="206.9">0.4</text>
<text x="881.9" y="206.9">0.3</text>
<text x="536.3" y="218.2">0.2</text>
<text x="565.1" y="218.2">0.2</text>
<text x="651.5" y="218.2">0.1</text>
<text x="709.1" y="218.2">0.1</text>
<text x="737.9" y="218.2">0.2</text>
<text x="766.7" y="218.2" fill="#fff" stroke="#fff">0.4</text>
<text x="795.5" y="218.2">0.4</text>
<text x="824.3" y="218.2">0.2</text>
<text x="853.1" y="218.2">0.3</text>
<text x="881.9" y="218.2">0.2</text>
<text x="910.7" y="218.2">0.4</text>
<text x="593.9" y="229.5">0.1</text>
<text x="622.7" y="229.5">0.1</text>
<text x="651.5" y="229.5">0.3</text>
<text x="680.3" y="229.5">0.2</text>
<text x="737.9" y="229.5">0.3</text>
<text x="766.7" y="229.5">0.4</text>
<text x="536.3" y="240.8">0.2</text>
<text x="565.1" y="240.8">0.2</text>
<text x="737.9" y="240.8">0.3</text>
<text x="766.7" y="240.8" fill="#fff" stroke="#fff">0.5</text>
<text x="795.5" y="240.8">0.2</text>
<text x="853.1" y="240.8">0.1</text>
<text x="881.9" y="240.8">0.2</text>
<text x="910.7" y="240.8">0.2</text>
<text x="651.5" y="252.1">0.8</text>
<text x="680.3" y="252.1" fill="#fff" stroke="#fff">0.7</text>
<text x="766.7" y="252.1">0.2</text>
<text x="795.5" y="252.1">0.3</text>
<text x="824.3" y="252.1">0.2</text>
<text x="881.9" y="252.1">0.1</text>
<text x="910.7" y="252.1">0.2</text>
<text x="507.5" y="263.4">0.1</text>
<text x="536.3" y="263.4">0.2</text>
<text x="565.1" y="263.4">0.2</text>
<text x="622.7" y="263.4">0.1</text>
<text x="651.5" y="263.4">0.4</text>
<text x="680.3" y="263.4">0.3</text>
<text x="737.9" y="263.4">0.1</text>
<text x="766.7" y="263.4">0.2</text>
<text x="881.9" y="263.4">0.1</text>
<text x="910.7" y="263.4">0.1</text>
<text x="363.5" y="274.7">0.4</text>
<text x="392.3" y="274.7">0.8</text>
<text x="421.1" y="274.7">0.8</text>
<text x="449.9" y="274.7" fill="#fff" stroke="#fff">0.4</text>
<text x="478.7" y="274.7">0.1</text>
<text x="507.5" y="274.7" fill="#fff" stroke="#fff">0.4</text>
<text x="536.3" y="274.7" fill="#fff" stroke="#fff">0.6</text>
<text x="565.1" y="274.7" fill="#fff" stroke="#fff">0.4</text>
<text x="593.9" y="274.7">0.3</text>
<text x="622.7" y="274.7">0.2</text>
<text x="651.5" y="274.7">0.2</text>
<text x="709.1" y="274.7">0.1</text>
<text x="737.9" y="274.7">0.1</text>
<text x="795.5" y="274.7">0.1</text>
<text x="507.5" y="286">0.3</text>
<text x="536.3" y="286">0.3</text>
<text x="593.9" y="286">0.3</text>
<text x="622.7" y="286" fill="#fff" stroke="#fff">0.6</text>
<text x="651.5" y="286">0.3</text>
<text x="680.3" y="286">0.3</text>
<text x="709.1" y="286">0.4</text>
<text x="737.9" y="286">0.3</text>
<text x="766.7" y="286">0.2</text>
<text x="853.1" y="286">1.0</text>
<text x="881.9" y="286">1.0</text>
<text x="910.7" y="286">0.8</text>
<text x="421.1" y="308.6">0.1</text>
<text x="565.1" y="308.6">0.2</text>
<text x="593.9" y="308.6">0.3</text>
<text x="622.7" y="308.6">0.1</text>
<text x="709.1" y="308.6">0.3</text>
<text x="737.9" y="308.6">0.4</text>
<text x="392.3" y="319.9">0.2</text>
<text x="421.1" y="319.9" fill="#fff" stroke="#fff">0.4</text>
<text x="449.9" y="319.9">0.3</text>
<text x="478.7" y="319.9">0.2</text>
<text x="507.5" y="319.9">0.1</text>
<text x="536.3" y="319.9">0.3</text>
<text x="565.1" y="319.9" fill="#fff" stroke="#fff">0.6</text>
<text x="593.9" y="319.9" fill="#fff" stroke="#fff">0.6</text>
<text x="622.7" y="319.9" fill="#fff" stroke="#fff">0.4</text>
<text x="651.5" y="319.9" fill="#fff" stroke="#fff">0.6</text>
<text x="680.3" y="319.9">1.2</text>
<text x="709.1" y="319.9">1.7</text>
<text x="737.9" y="319.9">1.2</text>
<text x="766.7" y="319.9" fill="#fff" stroke="#fff">0.4</text>
<text x="795.5" y="319.9">0.7</text>
<text x="824.3" y="319.9" fill="#fff" stroke="#fff">0.7</text>
<text x="853.1" y="319.9">0.3</text>
<text x="881.9" y="319.9">0.2</text>
<text x="910.7" y="319.9">0.1</text>
<text x="507.5" y="331.2" fill="#fff" stroke="#fff">0.6</text>
<text x="536.3" y="331.2">1.0</text>
<text x="565.1" y="331.2">0.4</text>
<text x="680.3" y="331.2">0.2</text>
<text x="709.1" y="331.2">0.1</text>
<text x="824.3" y="331.2">0.2</text>
<text x="853.1" y="331.2" fill="#fff" stroke="#fff">0.4</text>
<text x="881.9" y="331.2" fill="#fff" stroke="#fff">0.4</text>
<text x="910.7" y="331.2" fill="#fff" stroke="#fff">0.5</text>
<text x="536.3" y="342.5">0.3</text>
<text x="565.1" y="342.5">0.7</text>
<text x="593.9" y="342.5">0.9</text>
<text x="622.7" y="342.5" fill="#fff" stroke="#fff">0.5</text>
<text x="651.5" y="342.5">0.4</text>
<text x="680.3" y="342.5">0.3</text>
<text x="709.1" y="342.5">0.2</text>
<text x="737.9" y="342.5">0.3</text>
<text x="766.7" y="342.5">0.3</text>
<text x="795.5" y="342.5">0.3</text>
<text x="536.3" y="353.8">0.3</text>
<text x="565.1" y="353.8" fill="#fff" stroke="#fff">0.5</text>
<text x="593.9" y="353.8" fill="#fff" stroke="#fff">0.7</text>
<text x="622.7" y="353.8" fill="#fff" stroke="#fff">0.5</text>
<text x="651.5" y="353.8">0.2</text>
<text x="680.3" y="353.8">0.3</text>
<text x="709.1" y="353.8">0.3</text>
<text x="737.9" y="353.8">0.2</text>
<text x="766.7" y="353.8">0.2</text>
<text x="795.5" y="353.8" fill="#fff" stroke="#fff">0.4</text>
<text x="824.3" y="353.8" fill="#fff" stroke="#fff">0.5</text>
<text x="853.1" y="353.8">0.2</text>
<text x="565.1" y="365.1">0.2</text>
<text x="593.9" y="365.1">0.2</text>
<text x="651.5" y="365.1">0.2</text>
<text x="680.3" y="365.1">0.2</text>
<text x="709.1" y="365.1">0.1</text>
<text x="737.9" y="365.1">0.2</text>
<text x="766.7" y="365.1">0.1</text>
<text x="795.5" y="365.1">0.3</text>
<text x="824.3" y="365.1">0.3</text>
<text x="853.1" y="365.1">0.1</text>
<text x="881.9" y="365.1">0.2</text>
<text x="910.7" y="365.1" fill="#fff" stroke="#fff">0.6</text>
<text x="449.9" y="376.4">0.1</text>
<text x="478.7" y="376.4">0.1</text>
<text x="680.3" y="376.4">0.1</text>
<text x="709.1" y="376.4">0.4</text>
<text x="737.9" y="376.4" fill="#fff" stroke="#fff">0.4</text>
<text x="766.7" y="376.4">0.3</text>
<text x="795.5" y="376.4">0.1</text>
<text x="881.9" y="376.4">0.4</text>
<text x="910.7" y="376.4">0.4</text>
<text x="622.7" y="387.7" fill="#fff" stroke="#fff">0.4</text>
<text x="651.5" y="387.7" fill="#fff" stroke="#fff">0.4</text>
<text x="680.3" y="387.7">0.1</text>
<text x="507.5" y="399">0.4</text>
<text x="536.3" y="399" fill="#fff" stroke="#fff">0.5</text>
<text x="565.1" y="399">0.3</text>
<text x="593.9" y="399">0.4</text>
<text x="622.7" y="399">0.7</text>
<text x="651.5" y="399">1.1</text>
<text x="680.3" y="399">1.2</text>
<text x="709.1" y="399">0.8</text>
<text x="737.9" y="399">0.3</text>
<text x="766.7" y="399">0.2</text>
<text x="795.5" y="399">0.2</text>
<text x="824.3" y="399">0.3</text>
<text x="853.1" y="399">0.3</text>
<text x="881.9" y="399">0.1</text>
<text x="565.1" y="410.3">0.4</text>
<text x="593.9" y="410.3" fill="#fff" stroke="#fff">0.5</text>
<text x="622.7" y="410.3" fill="#fff" stroke="#fff">0.6</text>
<text x="651.5" y="410.3" fill="#fff" stroke="#fff">0.6</text>
<text x="680.3" y="410.3">0.2</text>
<text x="709.1" y="410.3">0.2</text>
<text x="737.9" y="410.3" fill="#fff" stroke="#fff">0.7</text>
<text x="766.7" y="410.3" fill="#fff" stroke="#fff">0.5</text>
<text x="795.5" y="410.3">0.2</text>
<text x="824.3" y="410.3">0.2</text>
<text x="910.7" y="410.3">0.2</text>
<text x="507.5" y="421.6">0.2</text>
<text x="536.3" y="421.6">0.2</text>
<text x="622.7" y="421.6">0.3</text>
<text x="651.5" y="421.6">0.3</text>
<text x="536.3" y="432.9">0.1</text>
<text x="565.1" y="432.9">0.7</text>
<text x="593.9" y="432.9">0.8</text>
<text x="622.7" y="432.9">0.3</text>
<text x="737.9" y="432.9">0.1</text>
<text x="766.7" y="432.9" fill="#fff" stroke="#fff">0.5</text>
<text x="795.5" y="432.9" fill="#fff" stroke="#fff">0.5</text>
<text x="824.3" y="432.9">0.2</text>
<text x="853.1" y="432.9">0.2</text>
<text x="881.9" y="432.9">0.2</text>
<text x="392.3" y="444.2">0.3</text>
<text x="421.1" y="444.2" fill="#fff" stroke="#fff">0.5</text>
<text x="449.9" y="444.2">0.3</text>
<text x="536.3" y="444.2">0.9</text>
<text x="565.1" y="444.2">0.8</text>
<text x="593.9" y="444.2" fill="#fff" stroke="#fff">0.6</text>
<text x="622.7" y="444.2">1.4</text>
<text x="651.5" y="444.2">1.5</text>
<text x="680.3" y="444.2">0.8</text>
<text x="709.1" y="444.2">0.2</text>
<text x="737.9" y="444.2">0.3</text>
<text x="766.7" y="444.2">0.2</text>
<text x="795.5" y="444.2">0.3</text>
<text x="824.3" y="444.2">0.2</text>
<text x="910.7" y="444.2">0.1</text>
<text x="507.5" y="455.5">0.1</text>
<text x="536.3" y="455.5">0.2</text>
<text x="565.1" y="455.5">0.1</text>
<text x="536.3" y="466.8">0.3</text>
<text x="565.1" y="466.8">0.3</text>
<text x="680.3" y="466.8">0.4</text>
<text x="709.1" y="466.8">0.7</text>
<text x="737.9" y="466.8">0.4</text>
<text x="795.5" y="466.8">0.3</text>
<text x="824.3" y="466.8">0.4</text>
<text x="507.5" y="478.1">0.1</text>
<text x="536.3" y="478.1">0.2</text>
<text x="593.9" y="478.1">0.2</text>
<text x="622.7" y="478.1">0.3</text>
<text x="651.5" y="478.1" fill="#fff" stroke="#fff">0.6</text>
<text x="680.3" y="478.1" fill="#fff" stroke="#fff">0.6</text>
<text x="709.1" y="478.1">0.1</text>
<text x="737.9" y="478.1">0.3</text>
<text x="766.7" y="478.1" fill="#fff" stroke="#fff">0.5</text>
<text x="795.5" y="478.1">0.2</text>
<text x="449.9" y="489.4">0.4</text>
<text x="478.7" y="489.4">0.3</text>
<text x="565.1" y="489.4">0.3</text>
<text x="593.9" y="489.4" fill="#fff" stroke="#fff">0.4</text>
<text x="622.7" y="489.4">0.3</text>
<text x="651.5" y="489.4" fill="#fff" stroke="#fff">0.5</text>
<text x="680.3" y="489.4">0.4</text>
<text x="766.7" y="489.4">0.1</text>
<text x="507.5" y="500.7" fill="#fff" stroke="#fff">0.4</text>
<text x="536.3" y="500.7">0.4</text>
<text x="593.9" y="500.7">0.3</text>
<text x="622.7" y="500.7" fill="#fff" stroke="#fff">0.4</text>
<text x="651.5" y="500.7">0.4</text>
<text x="680.3" y="500.7">0.3</text>
<text x="709.1" y="500.7">0.4</text>
<text x="737.9" y="500.7" fill="#fff" stroke="#fff">0.6</text>
<text x="766.7" y="500.7">0.3</text>
<text x="795.5" y="500.7">0.2</text>
<text x="824.3" y="500.7" fill="#fff" stroke="#fff">0.5</text>
<text x="853.1" y="500.7" fill="#fff" stroke="#fff">0.5</text>
<text x="881.9" y="500.7">0.2</text>
<text x="507.5" y="512">0.2</text>
<text x="536.3" y="512">0.3</text>
<text x="565.1" y="512">0.3</text>
<text x="593.9" y="512" fill="#fff" stroke="#fff">0.6</text>
<text x="622.7" y="512">0.9</text>
<text x="651.5" y="512">1.1</text>
<text x="680.3" y="512">2.1</text>
<text x="709.1" y="512">2.7</text>
<text x="737.9" y="512">1.5</text>
<text x="766.7" y="512">0.3</text>
<text x="795.5" y="512">0.4</text>
<text x="824.3" y="512" fill="#fff" stroke="#fff">0.6</text>
<text x="853.1" y="512">0.3</text>
<text x="507.5" y="523.3">0.3</text>
<text x="536.3" y="523.3" fill="#fff" stroke="#fff">0.5</text>
<text x="565.1" y="523.3">0.2</text>
<text x="622.7" y="523.3">0.2</text>
<text x="651.5" y="523.3">0.2</text>
<text x="680.3" y="523.3">0.2</text>
<text x="709.1" y="523.3">0.3</text>
<text x="737.9" y="523.3">0.2</text>
<text x="910.7" y="523.3">0.3</text>
<text x="536.3" y="534.6">0.1</text>
<text x="565.1" y="534.6">0.1</text>
<text x="593.9" y="534.6">0.1</text>
<text x="622.7" y="534.6" fill="#fff" stroke="#fff">0.4</text>
<text x="651.5" y="534.6">0.8</text>
<text x="680.3" y="534.6">0.8</text>
<text x="709.1" y="534.6">0.4</text>
<text x="737.9" y="534.6">0.1</text>
<text x="766.7" y="534.6">0.2</text>
<text x="795.5" y="534.6">0.2</text>
<text x="910.7" y="545.9">0.2</text>
<text x="507.5" y="557.2">0.1</text>
<text x="536.3" y="557.2">0.2</text>
<text x="565.1" y="557.2">0.2</text>
<text x="593.9" y="557.2">0.2</text>
<text x="622.7" y="557.2">0.1</text>
<text x="651.5" y="557.2">0.1</text>
<text x="709.1" y="557.2">0.2</text>
<text x="737.9" y="557.2">0.2</text>
<text x="766.7" y="557.2">0.2</text>
<text x="795.5" y="557.2">0.4</text>
<text x="824.3" y="557.2" fill="#fff" stroke="#fff">0.6</text>
<text x="853.1" y="557.2">0.7</text>
<text x="881.9" y="557.2" fill="#fff" stroke="#fff">0.7</text>
<text x="910.7" y="557.2">1.0</text>
<text x="392.3" y="568.5">0.3</text>
<text x="421.1" y="568.5" fill="#fff" stroke="#fff">0.5</text>
<text x="449.9" y="568.5">0.3</text>
<text x="536.3" y="568.5" fill="#fff" stroke="#fff">0.6</text>
<text x="565.1" y="568.5">0.8</text>
<text x="593.9" y="568.5">0.3</text>
<text x="622.7" y="568.5">0.1</text>
<text x="651.5" y="568.5">0.1</text>
<text x="680.3" y="568.5">0.3</text>
<text x="709.1" y="568.5">0.3</text>
<text x="737.9" y="568.5">0.3</text>
<text x="766.7" y="568.5" fill="#fff" stroke="#fff">0.6</text>
<text x="795.5" y="568.5" fill="#fff" stroke="#fff">0.7</text>
<text x="824.3" y="568.5">0.3</text>
<text x="737.9" y="579.8">0.4</text>
<text x="766.7" y="579.8" fill="#fff" stroke="#fff">0.4</text>
<text x="795.5" y="579.8">0.2</text>
<text x="853.1" y="579.8">0.1</text>
<text x="737.9" y="591.1">0.2</text>
<text x="766.7" y="591.1">0.2</text>
<text x="392.3" y="602.4" fill="#fff" stroke="#fff">0.4</text>
<text x="421.1" y="602.4" fill="#fff" stroke="#fff">0.5</text>
<text x="507.5" y="602.4">0.1</text>
<text x="536.3" y="602.4">0.4</text>
<text x="565.1" y="602.4">0.3</text>
<text x="593.9" y="602.4">0.3</text>
<text x="622.7" y="602.4">1.0</text>
<text x="651.5" y="602.4">0.8</text>
<text x="680.3" y="602.4">1.3</text>
<text x="709.1" y="602.4">1.4</text>
<text x="737.9" y="602.4">0.2</text>
<text x="766.7" y="602.4">0.2</text>
<text x="795.5" y="602.4">0.2</text>
<text x="622.7" y="613.7">0.2</text>
<text x="651.5" y="613.7" fill="#fff" stroke="#fff">0.5</text>
<text x="680.3" y="613.7">0.3</text>
<text x="737.9" y="613.7">0.1</text>
<text x="766.7" y="613.7">0.3</text>
<text x="795.5" y="613.7">0.2</text>
<text x="824.3" y="613.7">0.8</text>
<text x="853.1" y="613.7">1.7</text>
<text x="881.9" y="613.7">1.9</text>
<text x="910.7" y="613.7">1.0</text>
<text x="507.5" y="625">0.3</text>
<text x="536.3" y="625">0.8</text>
<text x="565.1" y="625" fill="#fff" stroke="#fff">0.5</text>
<text x="593.9" y="625">0.2</text>
<text x="622.7" y="625" fill="#fff" stroke="#fff">0.4</text>
<text x="651.5" y="625" fill="#fff" stroke="#fff">0.5</text>
<text x="680.3" y="625">0.3</text>
<text x="709.1" y="625">0.1</text>
<text x="795.5" y="625" fill="#fff" stroke="#fff">0.4</text>
<text x="824.3" y="625">0.9</text>
<text x="853.1" y="625" fill="#fff" stroke="#fff">0.5</text>
</g>
<g font-size="13" text-anchor="middle" stroke="#000" stroke-width="0.2">
<text x="392.3" y="713">0.0</text>
<text x="421.1" y="713">0.1</text>
<text x="449.9" y="713">0.0</text>
<text x="478.7" y="713">0.0</text>
<text x="507.5" y="713">0.1</text>
<text x="536.3" y="713">0.2</text>
<text x="565.1" y="713">0.3</text>
<text x="593.9" y="713">0.3</text>
<text x="622.7" y="713">0.3</text>
<text x="651.5" y="713">0.4</text>
<text x="680.3" y="713">0.3</text>
<text x="709.1" y="713">0.3</text>
<text x="737.9" y="713">0.2</text>
<text x="766.7" y="713">0.2</text>
<text x="795.5" y="713">0.2</text>
<text x="824.3" y="713">0.2</text>
<text x="853.1" y="713">0.2</text>
<text x="881.9" y="713">0.2</text>
<text x="910.7" y="713">0.3</text>
</g>
<g font-size="11.5" text-anchor="end" stroke="#000" stroke-width="0.2">
<text x="41.5" y="59.9">CONT</text>
<text x="41.5" y="70.38">e01</text>
<text x="41.5" y="81.76">e02</text>
<text x="41.5" y="93.14">e03</text>
<text x="41.5" y="104.52">e04</text>
<text x="41.5" y="115.9">e05</text>
<text x="41.5" y="127.28">e06</text>
<text x="41.5" y="138.66">e07</text>
<text x="41.5" y="150.04">e08</text>
<text x="41.5" y="161.42">e09</text>
<text x="41.5" y="172.8">e10</text>
<text x="41.5" y="184.18">e11</text>
<text x="41.5" y="195.56">e12</text>
<text x="41.5" y="206.94">e13</text>
<text x="41.5" y="218.32">e14</text>
<text x="41.5" y="229.7">e15</text>
<text x="41.5" y="241.08">e16</text>
<text x="41.5" y="252.46">e17</text>
<text x="41.5" y="263.84">e18</text>
<text x="41.5" y="275.22">e19</text>
<text x="41.5" y="286.6">e20</text>
<text x="41.5" y="297.98">e21</text>
<text x="41.5" y="309.36">e22</text>
<text x="41.5" y="320.74">e23</text>
<text x="41.5" y="332.12">e24</text>
<text x="41.5" y="343.5">e25</text>
<text x="41.5" y="354.88">e26</text>
<text x="41.5" y="366.26">e27</text>
<text x="41.5" y="377.64">e28</text>
<text x="41.5" y="389.02">e29</text>
<text x="41.5" y="400.4">e30</text>
<text x="41.5" y="411.78">e31</text>
<text x="41.5" y="423.16">e32</text>
<text x="41.5" y="434.54">e33</text>
<text x="41.5" y="445.92">e34</text>
<text x="41.5" y="457.3">e35</text>
<text x="41.5" y="468.68">e36</text>
<text x="41.5" y="480.06">e37</text>
<text x="41.5" y="491.44">e38</text>
<text x="41.5" y="502.82">e39</text>
<text x="41.5" y="514.2">e40</text>
<text x="41.5" y="525.58">e41</text>
<text x="41.5" y="536.96">e42</text>
<text x="41.5" y="548.34">e43</text>
<text x="41.5" y="559.72">e44</text>
<text x="41.5" y="571.1">e45</text>
<text x="41.5" y="582.48">e46</text>
<text x="41.5" y="593.86">e47</text>
<text x="41.5" y="605.24">e48</text>
<text x="41.5" y="616.62">e49</text>
<text x="41.5" y="628">e50</text>
<text x="41.3" y="713.5" font-size="11.5" textLength="31.6" lengthAdjust="spacingAndGlyphs">MEAN</text>
</g>
<g fill="none" stroke="#000">
<rect x="46.7" y="45.3" width="921.2" height="587" stroke-width="1.8"/>
<rect x="46.7" y="695.5" width="921.2" height="26.6" stroke-width="1.3"/>
<line x1="46" y1="654.9" x2="968.7" y2="654.9" stroke-width="1.5"/>
<line x1="46.7" y1="632.3" x2="46.7" y2="636.6" stroke-width="1.5"/>
<line x1="46.7" y1="722.1" x2="46.7" y2="725.6" stroke-width="1.3"/>
<line x1="104.3" y1="632.3" x2="104.3" y2="636.6" stroke-width="1.5"/>
<line x1="104.3" y1="722.1" x2="104.3" y2="725.6" stroke-width="1.3"/>
<line x1="161.9" y1="632.3" x2="161.9" y2="636.6" stroke-width="1.5"/>
<line x1="161.9" y1="722.1" x2="161.9" y2="725.6" stroke-width="1.3"/>
<line x1="219.5" y1="632.3" x2="219.5" y2="636.6" stroke-width="1.5"/>
<line x1="219.5" y1="722.1" x2="219.5" y2="725.6" stroke-width="1.3"/>
<line x1="277.1" y1="632.3" x2="277.1" y2="636.6" stroke-width="1.5"/>
<line x1="277.1" y1="722.1" x2="277.1" y2="725.6" stroke-width="1.3"/>
<line x1="334.7" y1="632.3" x2="334.7" y2="636.6" stroke-width="1.5"/>
<line x1="334.7" y1="722.1" x2="334.7" y2="725.6" stroke-width="1.3"/>
<line x1="392.3" y1="632.3" x2="392.3" y2="636.6" stroke-width="1.5"/>
<line x1="392.3" y1="722.1" x2="392.3" y2="725.6" stroke-width="1.3"/>
<line x1="449.9" y1="632.3" x2="449.9" y2="636.6" stroke-width="1.5"/>
<line x1="449.9" y1="722.1" x2="449.9" y2="725.6" stroke-width="1.3"/>
<line x1="507.5" y1="632.3" x2="507.5" y2="636.6" stroke-width="1.5"/>
<line x1="507.5" y1="722.1" x2="507.5" y2="725.6" stroke-width="1.3"/>
<line x1="565.1" y1="632.3" x2="565.1" y2="636.6" stroke-width="1.5"/>
<line x1="565.1" y1="722.1" x2="565.1" y2="725.6" stroke-width="1.3"/>
<line x1="622.7" y1="632.3" x2="622.7" y2="636.6" stroke-width="1.5"/>
<line x1="622.7" y1="722.1" x2="622.7" y2="725.6" stroke-width="1.3"/>
<line x1="680.3" y1="632.3" x2="680.3" y2="636.6" stroke-width="1.5"/>
<line x1="680.3" y1="722.1" x2="680.3" y2="725.6" stroke-width="1.3"/>
<line x1="737.9" y1="632.3" x2="737.9" y2="636.6" stroke-width="1.5"/>
<line x1="737.9" y1="722.1" x2="737.9" y2="725.6" stroke-width="1.3"/>
<line x1="795.5" y1="632.3" x2="795.5" y2="636.6" stroke-width="1.5"/>
<line x1="795.5" y1="722.1" x2="795.5" y2="725.6" stroke-width="1.3"/>
<line x1="853.1" y1="632.3" x2="853.1" y2="636.6" stroke-width="1.5"/>
<line x1="853.1" y1="722.1" x2="853.1" y2="725.6" stroke-width="1.3"/>
<line x1="910.7" y1="632.3" x2="910.7" y2="636.6" stroke-width="1.5"/>
<line x1="910.7" y1="722.1" x2="910.7" y2="725.6" stroke-width="1.3"/>
<line x1="967.9" y1="632.3" x2="967.9" y2="636.6" stroke-width="1.5"/>
<line x1="967.9" y1="722.1" x2="967.9" y2="725.6" stroke-width="1.3"/>
<line x1="75.5" y1="654.9" x2="75.5" y2="660.5" stroke-width="1.4"/>
<line x1="190.7" y1="654.9" x2="190.7" y2="660.5" stroke-width="1.4"/>
<line x1="305.9" y1="654.9" x2="305.9" y2="660.5" stroke-width="1.4"/>
<line x1="421.1" y1="654.9" x2="421.1" y2="660.5" stroke-width="1.4"/>
<line x1="536.3" y1="654.9" x2="536.3" y2="660.5" stroke-width="1.4"/>
<line x1="709.1" y1="654.9" x2="709.1" y2="660.5" stroke-width="1.4"/>
<line x1="824.3" y1="654.9" x2="824.3" y2="660.5" stroke-width="1.4"/>
<line x1="939.5" y1="654.9" x2="939.5" y2="660.5" stroke-width="1.4"/>
</g>
<g font-size="12" text-anchor="middle" stroke="#000" stroke-width="0.2">
<text x="46.7" y="647.8" textLength="37.4" lengthAdjust="spacingAndGlyphs">20/12z</text>
<text x="46.7" y="736.7" textLength="33.6" lengthAdjust="spacingAndGlyphs">20/12z</text>
<text x="104.3" y="647.8" textLength="37.4" lengthAdjust="spacingAndGlyphs">21/12z</text>
<text x="104.3" y="736.7" textLength="33.6" lengthAdjust="spacingAndGlyphs">21/12z</text>
<text x="161.9" y="647.8" textLength="37.4" lengthAdjust="spacingAndGlyphs">22/12z</text>
<text x="161.9" y="736.7" textLength="33.6" lengthAdjust="spacingAndGlyphs">22/12z</text>
<text x="219.5" y="647.8" textLength="37.4" lengthAdjust="spacingAndGlyphs">23/12z</text>
<text x="219.5" y="736.7" textLength="33.6" lengthAdjust="spacingAndGlyphs">23/12z</text>
<text x="277.1" y="647.8" textLength="37.4" lengthAdjust="spacingAndGlyphs">24/12z</text>
<text x="277.1" y="736.7" textLength="33.6" lengthAdjust="spacingAndGlyphs">24/12z</text>
<text x="334.7" y="647.8" textLength="37.4" lengthAdjust="spacingAndGlyphs">25/12z</text>
<text x="334.7" y="736.7" textLength="33.6" lengthAdjust="spacingAndGlyphs">25/12z</text>
<text x="392.3" y="647.8" textLength="37.4" lengthAdjust="spacingAndGlyphs">26/12z</text>
<text x="392.3" y="736.7" textLength="33.6" lengthAdjust="spacingAndGlyphs">26/12z</text>
<text x="449.9" y="647.8" textLength="37.4" lengthAdjust="spacingAndGlyphs">27/12z</text>
<text x="449.9" y="736.7" textLength="33.6" lengthAdjust="spacingAndGlyphs">27/12z</text>
<text x="507.5" y="647.8" textLength="37.4" lengthAdjust="spacingAndGlyphs">28/12z</text>
<text x="507.5" y="736.7" textLength="33.6" lengthAdjust="spacingAndGlyphs">28/12z</text>
<text x="565.1" y="647.8" textLength="37.4" lengthAdjust="spacingAndGlyphs">29/12z</text>
<text x="565.1" y="736.7" textLength="33.6" lengthAdjust="spacingAndGlyphs">29/12z</text>
<text x="622.7" y="647.8" textLength="37.4" lengthAdjust="spacingAndGlyphs">30/12z</text>
<text x="622.7" y="736.7" textLength="33.6" lengthAdjust="spacingAndGlyphs">30/12z</text>
<text x="680.3" y="647.8" textLength="37.4" lengthAdjust="spacingAndGlyphs">31/12z</text>
<text x="680.3" y="736.7" textLength="33.6" lengthAdjust="spacingAndGlyphs">31/12z</text>
<text x="737.9" y="647.8" textLength="37.4" lengthAdjust="spacingAndGlyphs">01/12z</text>
<text x="737.9" y="736.7" textLength="33.6" lengthAdjust="spacingAndGlyphs">01/12z</text>
<text x="795.5" y="647.8" textLength="37.4" lengthAdjust="spacingAndGlyphs">02/12z</text>
<text x="795.5" y="736.7" textLength="33.6" lengthAdjust="spacingAndGlyphs">02/12z</text>
<text x="853.1" y="647.8" textLength="37.4" lengthAdjust="spacingAndGlyphs">03/12z</text>
<text x="853.1" y="736.7" textLength="33.6" lengthAdjust="spacingAndGlyphs">03/12z</text>
<text x="910.7" y="647.8" textLength="37.4" lengthAdjust="spacingAndGlyphs">04/12z</text>
<text x="910.7" y="736.7" textLength="33.6" lengthAdjust="spacingAndGlyphs">04/12z</text>
</g>
<g font-size="16.7" text-anchor="middle" stroke="#000" stroke-width="0.2">
<text x="75.5" y="676.6" textLength="50" lengthAdjust="spacingAndGlyphs">21JAN</text>
<text x="190.7" y="676.6" textLength="50" lengthAdjust="spacingAndGlyphs">23JAN</text>
<text x="305.9" y="676.6" textLength="50" lengthAdjust="spacingAndGlyphs">25JAN</text>
<text x="421.1" y="676.6" textLength="50" lengthAdjust="spacingAndGlyphs">27JAN</text>
<text x="536.3" y="676.6" textLength="50" lengthAdjust="spacingAndGlyphs">29JAN</text>
<text x="709.1" y="676.6" textLength="38.6" lengthAdjust="spacingAndGlyphs">1FEB</text>
<text x="824.3" y="676.6" textLength="38.6" lengthAdjust="spacingAndGlyphs">3FEB</text>
<text x="939.5" y="676.6" textLength="38.6" lengthAdjust="spacingAndGlyphs">5FEB</text>
</g>
<g font-size="12.5" stroke="#000" stroke-width="0.2">
<text x="997.6" y="65.03">30</text>
<text x="997.6" y="81.06">24</text>
<text x="997.6" y="97.09">20</text>
<text x="997.6" y="113.12">16</text>
<text x="997.6" y="129.15">14</text>
<text x="997.6" y="145.18">12</text>
<text x="997.6" y="161.21">10</text>
<text x="997.6" y="177.24">9.5</text>
<text x="997.6" y="193.27">9</text>
<text x="997.6" y="209.3">8.5</text>
<text x="997.6" y="225.33">8</text>
<text x="997.6" y="241.36">7.5</text>
<text x="997.6" y="257.39">7</text>
<text x="997.6" y="273.42">6.5</text>
<text x="997.6" y="289.45">6</text>
<text x="997.6" y="305.48">5.5</text>
<text x="997.6" y="321.51">5</text>
<text x="997.6" y="337.54">4.5</text>
<text x="997.6" y="353.57">4</text>
<text x="997.6" y="369.6">3.5</text>
<text x="997.6" y="385.63">3</text>
<text x="997.6" y="401.66">2.5</text>
<text x="997.6" y="417.69">2</text>
<text x="997.6" y="433.72">1.8</text>
<text x="997.6" y="449.75">1.6</text>
<text x="997.6" y="465.78">1.4</text>
<text x="997.6" y="481.81">1.2</text>
<text x="997.6" y="497.84">1</text>
<text x="997.6" y="513.87">0.9</text>
<text x="997.6" y="529.9">0.8</text>
<text x="997.6" y="545.93">0.7</text>
<text x="997.6" y="561.96">0.6</text>
<text x="997.6" y="577.99">0.5</text>
<text x="997.6" y="594.02">0.4</text>
<text x="997.6" y="610.05">0.3</text>
<text x="997.6" y="626.08">0.25</text>
<text x="997.6" y="642.11">0.2</text>
<text x="997.6" y="658.14">0.15</text>
<text x="997.6" y="674.17">0.1</text>
<text x="997.6" y="690.2">0.08</text>
<text x="997.6" y="706.23">0.05</text>
<text x="997.6" y="722.26">0.02</text>
<text x="997.6" y="738.29">0.01</text>
</g>
<g font-size="16.5" stroke="#000" stroke-width="0.35">
<text x="56.4" y="18.7" textLength="62.2" lengthAdjust="spacingAndGlyphs">ECMWF</text>
<text x="122.5" y="18.7" textLength="31.9" lengthAdjust="spacingAndGlyphs">EPS</text>
<text x="159.7" y="18.7" textLength="2.7" lengthAdjust="spacingAndGlyphs">|</text>
<text x="167.7" y="18.7" textLength="83.3" lengthAdjust="spacingAndGlyphs">24-Hourly</text>
<text x="256.3" y="18.7" textLength="109.7" lengthAdjust="spacingAndGlyphs">Precipitation</text>
<text x="371.8" y="18.7" textLength="43.4" lengthAdjust="spacingAndGlyphs">[inch]</text>
<text x="428.2" y="18.7" textLength="111.9" lengthAdjust="spacingAndGlyphs">50-perturbed</text>
<text x="544.8" y="18.7" textLength="78.5" lengthAdjust="spacingAndGlyphs">members</text>
<text x="628.9" y="18.7" textLength="10" lengthAdjust="spacingAndGlyphs">+</text>
<text x="643.5" y="18.7" textLength="62.8" lengthAdjust="spacingAndGlyphs">Control</text>
</g>
<g font-size="16.5" stroke="#000" stroke-width="0.35">
<text x="56" y="36.8" textLength="55.1" lengthAdjust="spacingAndGlyphs">15-day</text>
<text x="116.9" y="36.8" textLength="72" lengthAdjust="spacingAndGlyphs">Forecast</text>
<text x="194" y="36.8" textLength="32.8" lengthAdjust="spacingAndGlyphs">Init:</text>
<text x="231" y="36.8" textLength="124.4" lengthAdjust="spacingAndGlyphs">12Z20JAN2026</text>
</g>
<g font-size="16.5" fill="#1f3cff" stroke="#1f3cff" stroke-width="0.4">
<text x="392.2" y="36.8" textLength="41.6" lengthAdjust="spacingAndGlyphs">KSLE</text>
<text x="437.6" y="36.8" textLength="56.2" lengthAdjust="spacingAndGlyphs">SALEM</text>
<text x="535.1" y="36.8" textLength="5" lengthAdjust="spacingAndGlyphs">,</text>
<text x="544.8" y="36.8" textLength="25.2" lengthAdjust="spacingAndGlyphs">OR</text>
</g>
<text x="817.4" y="18.6" font-size="15" fill="#2b4bf2" stroke="#2b4bf2" stroke-width="0.55" textLength="159.2" lengthAdjust="spacingAndGlyphs">weathermodels.com</text>
</svg></body></html>
